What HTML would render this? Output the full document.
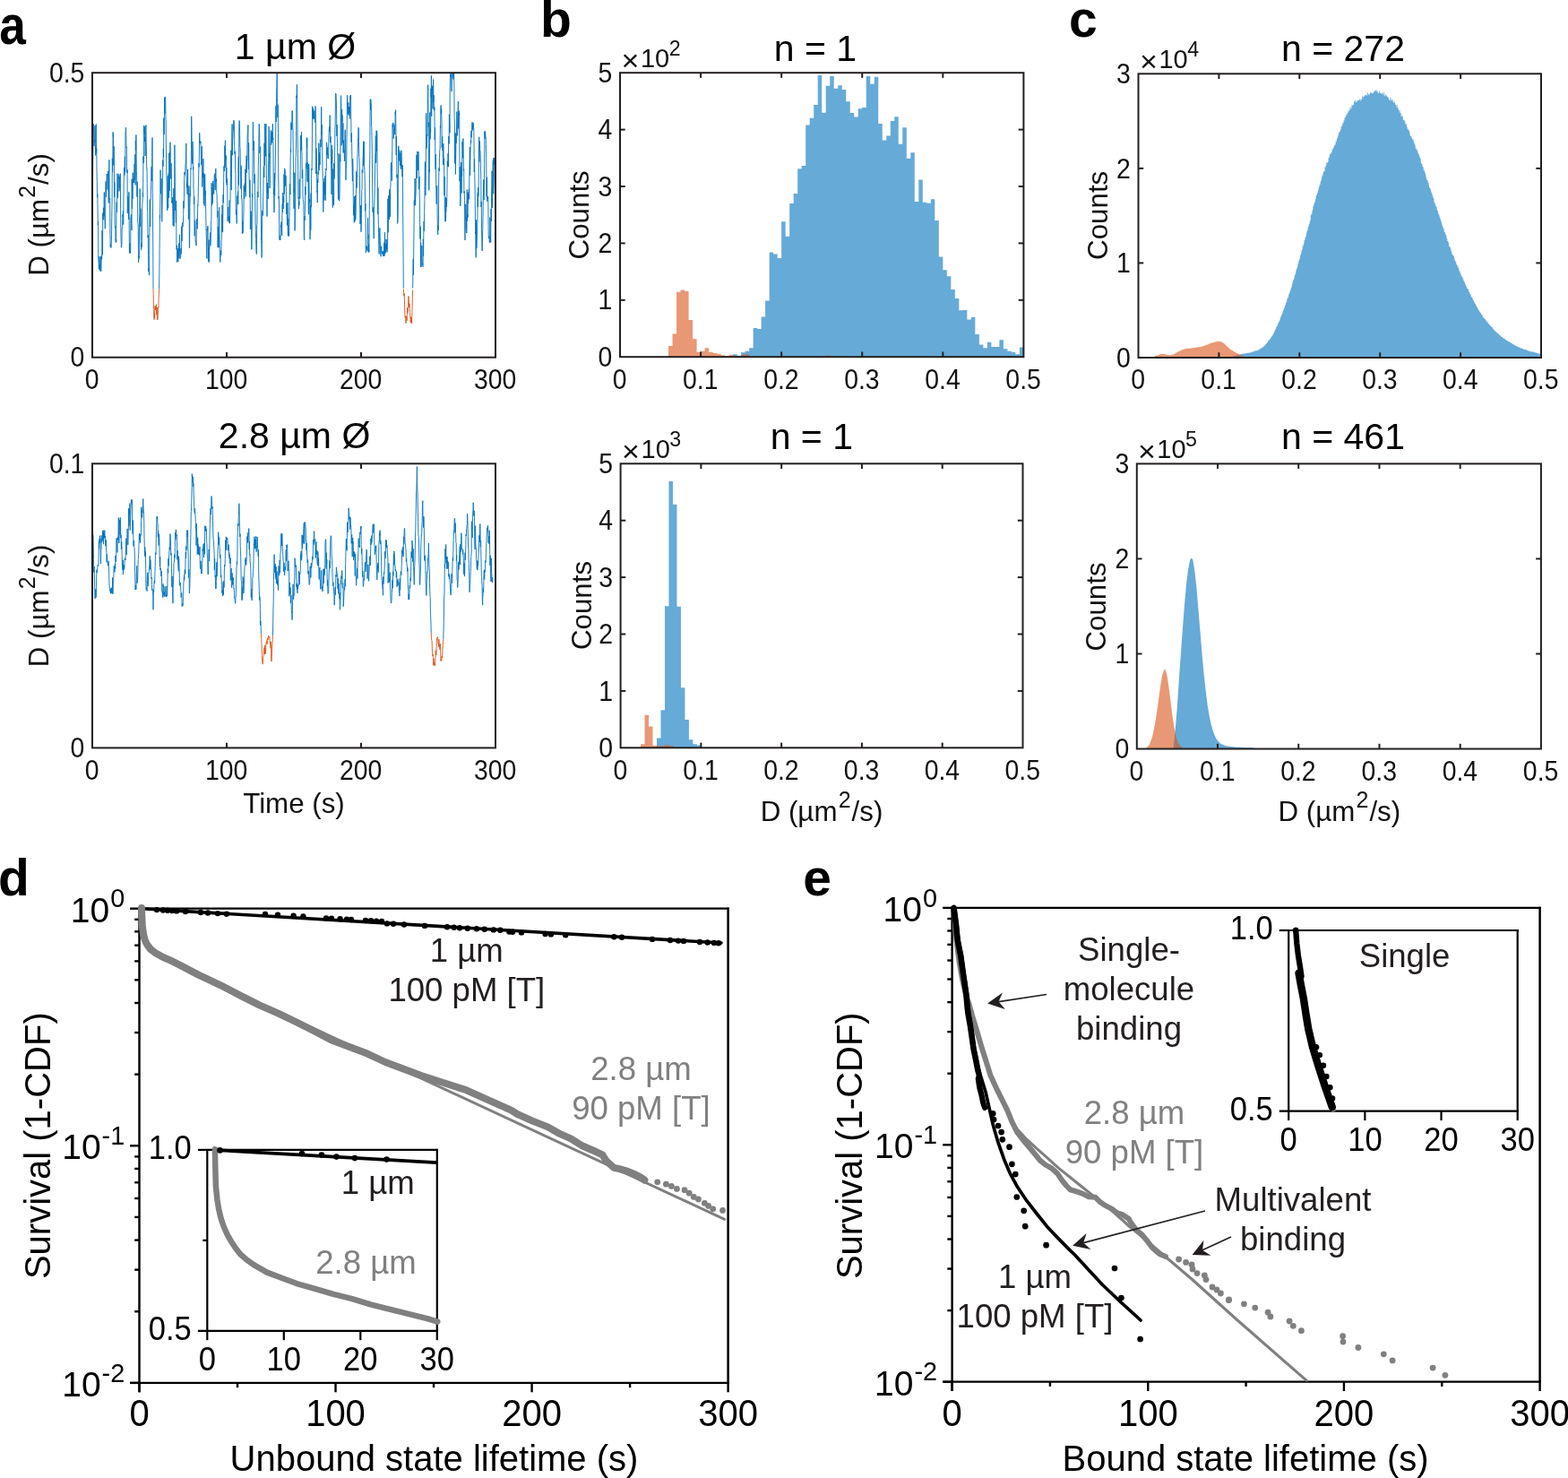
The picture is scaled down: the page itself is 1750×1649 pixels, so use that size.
<!DOCTYPE html>
<html lang="en"><head><meta charset="utf-8"><title>Figure</title>
<style>
html,body{margin:0;padding:0;background:#fff;}
body{width:1750px;height:1649px;overflow:hidden;}
svg{display:block;font-family:'Liberation Sans', sans-serif;}
</style></head><body>
<svg width="1750" height="1649" viewBox="0 0 1750 1649">
<rect x="0" y="0" width="1750" height="1649" fill="#ffffff"/>
<text transform="translate(-0.8 49.2) scale(0.933 1.067)" font-size="57" font-weight="bold">a</text>
<text x="603" y="41" font-size="57" text-anchor="start" font-weight="bold" fill="#000">b</text>
<text x="1193" y="40.5" font-size="57" text-anchor="start" font-weight="bold" fill="#000">c</text>
<text x="-2" y="999.3" font-size="57" text-anchor="start" font-weight="bold" fill="#000">d</text>
<text x="896.3" y="998.7" font-size="57" text-anchor="start" font-weight="bold" fill="#000">e</text>
<g id="panel-a">
<clipPath id="clip-a1"><rect x="103.0" y="81.2" width="450.0" height="317.5"/></clipPath>
<g clip-path="url(#clip-a1)">
<polyline points="103.0,232.9 103.2,217.1 103.5,201.3 103.7,180.3 104.0,153.9 104.2,145.1 104.4,138.0 104.7,151.9 104.9,163.0 105.2,156.8 105.5,158.6 105.7,157.9 106.0,140.2 106.2,162.1 106.5,169.3 106.8,173.5 107.0,143.9 107.3,138.5 107.5,171.0 107.8,165.7 108.0,191.0 108.3,201.5 108.6,220.4 108.8,216.4 109.1,236.1 109.3,251.1 109.6,247.3 109.8,288.5 110.1,292.3 110.4,300.4 110.6,296.8 110.9,286.1 111.1,289.2 111.4,294.3 111.6,301.8 111.9,302.1 112.2,297.0 112.4,286.3 112.7,303.0 112.9,299.5 113.2,285.3 113.5,288.6 113.7,289.2 114.0,257.2 114.2,265.8 114.5,284.3 114.7,237.6 115.0,243.3 115.3,245.2 115.5,231.8 115.8,241.1 116.0,238.7 116.3,214.5 116.5,238.9 116.8,243.5 117.1,247.8 117.3,255.2 117.6,240.1 117.8,222.6 118.1,202.5 118.4,219.7 118.6,205.3 118.9,200.6 119.2,194.2 119.4,196.0 119.7,194.0 120.0,211.6 120.2,196.6 120.5,191.6 120.8,190.9 121.1,223.8 121.3,226.5 121.6,194.5 121.9,178.3 122.1,220.0 122.4,222.4 122.7,221.7 122.9,257.1 123.2,275.6 123.5,272.2 123.8,276.5 124.0,276.2 124.3,271.2 124.5,262.7 124.8,242.2 125.1,225.0 125.3,176.8 125.6,192.1 125.8,182.2 126.1,147.3 126.3,152.3 126.6,149.7 126.9,184.3 127.1,163.3 127.4,186.9 127.6,219.9 127.9,203.2 128.1,247.8 128.4,254.1 128.7,252.5 128.9,265.7 129.2,270.0 129.4,266.7 129.7,270.7 129.9,239.0 130.2,225.6 130.5,236.7 130.7,219.3 131.0,193.6 131.2,195.8 131.5,221.1 131.8,197.7 132.0,198.7 132.3,196.7 132.5,194.6 132.8,195.3 133.0,213.4 133.3,197.0 133.6,210.1 133.8,198.7 134.1,198.7 134.3,193.7 134.6,232.6 134.8,254.2 135.1,267.5 135.4,276.2 135.6,274.0 135.9,273.0 136.1,257.0 136.4,253.9 136.6,252.8 136.9,239.5 137.2,242.0 137.4,235.5 137.7,250.6 137.9,226.2 138.2,202.0 138.5,190.0 138.7,186.9 139.0,195.5 139.2,175.2 139.5,174.6 139.7,191.8 140.0,147.2 140.3,147.2 140.5,142.2 140.8,154.9 141.0,164.7 141.3,163.7 141.5,185.4 141.8,193.1 142.1,189.4 142.3,238.1 142.6,229.7 142.8,218.8 143.1,227.5 143.4,234.4 143.6,244.9 143.9,214.3 144.1,242.9 144.4,281.1 144.6,282.4 144.9,271.3 145.2,282.6 145.4,282.5 145.7,278.7 145.9,242.3 146.2,242.2 146.4,239.2 146.7,249.4 147.0,256.9 147.2,199.7 147.5,233.0 147.7,203.5 148.0,221.9 148.2,192.6 148.5,204.1 148.8,204.0 149.0,203.0 149.3,199.2 149.5,204.0 149.8,193.0 150.1,182.7 150.3,200.6 150.6,196.7 150.8,172.2 151.1,206.4 151.3,157.0 151.6,167.8 151.9,150.4 152.1,166.8 152.4,190.2 152.7,200.4 152.9,219.5 153.2,202.9 153.5,206.6 153.7,249.0 154.0,249.4 154.3,257.9 154.5,292.7 154.8,290.7 155.1,285.4 155.3,287.5 155.6,245.1 155.9,237.3 156.1,210.5 156.4,217.4 156.7,252.9 156.9,232.7 157.2,268.7 157.5,279.1 157.8,271.6 158.0,276.2 158.3,274.0 158.6,251.5 158.8,227.2 159.1,224.9 159.4,215.4 159.6,219.5 159.9,174.4 160.2,182.1 160.5,181.2 160.7,140.1 161.0,150.2 161.2,141.2 161.5,158.1 161.7,153.6 162.0,153.4 162.2,174.0 162.5,157.1 162.7,145.1 162.9,139.4 163.2,158.7 163.5,171.2 163.7,187.8 164.0,187.5 164.2,204.4 164.5,230.8 164.7,236.6 165.0,265.2 165.3,262.3 165.5,285.6 165.8,303.0 166.0,299.0 166.3,304.0 166.6,307.1 166.8,259.2 167.1,247.4 167.3,223.0 167.6,253.0 167.9,222.0 168.1,222.4 168.4,212.9 168.7,205.0 168.9,186.9 169.2,185.9 169.5,201.9 169.7,174.3 170.0,153.5 170.3,214.8 170.5,238.0 170.8,280.3 171.0,322.6" fill="none" stroke="#0072BD" stroke-width="0.9" stroke-linejoin="round"/>
<polyline points="177.6,322.6 177.9,300.4 178.1,278.2 178.4,240.1 178.6,243.4 178.8,227.0 179.1,189.6 179.3,213.2 179.6,216.2 179.9,203.4 180.2,199.3 180.4,218.1 180.7,247.3 181.0,231.3 181.3,211.8 181.5,200.5 181.8,178.6 182.0,185.7 182.3,165.8 182.6,175.5 182.8,131.6 183.1,150.1 183.4,135.6 183.6,108.7 183.9,127.2 184.2,113.7 184.4,108.1 184.7,113.1 184.9,127.8 185.2,135.9 185.4,165.1 185.7,182.7 185.9,195.5 186.2,202.7 186.4,228.2 186.7,234.8 186.9,228.8 187.2,196.3 187.4,221.2 187.7,232.3 187.9,208.3 188.2,193.5 188.5,220.7 188.7,170.9 189.0,183.1 189.2,212.9 189.5,169.3 189.7,174.5 190.0,158.7 190.3,175.7 190.5,185.8 190.8,199.5 191.0,182.2 191.3,193.4 191.5,208.1 191.8,226.2 192.1,224.7 192.3,226.8 192.6,220.2 192.8,232.8 193.1,251.4 193.4,248.1 193.6,223.9 193.9,210.2 194.1,252.7 194.4,239.3 194.6,221.7 194.9,161.7 195.2,185.5 195.4,202.7 195.6,234.5 195.9,233.7 196.1,233.0 196.4,248.5 196.6,223.9 196.9,267.0 197.1,278.4 197.4,273.9 197.6,292.7 197.9,287.7 198.2,281.9 198.4,277.3 198.7,289.6 198.9,291.9 199.2,283.5 199.5,271.5 199.7,287.7 200.0,287.7 200.3,276.5 200.5,261.7 200.8,288.8 201.1,287.7 201.3,287.7 201.6,287.7 201.8,277.1 202.1,283.3 202.4,280.3 202.6,252.7 202.9,260.9 203.1,269.0 203.4,249.6 203.7,248.4 203.9,253.2 204.2,250.2 204.4,249.6 204.7,239.5 204.9,224.4 205.2,232.4 205.5,220.6 205.7,199.8 206.0,192.1 206.2,195.3 206.5,191.3 206.8,190.4 207.0,184.2 207.3,181.2 207.5,173.1 207.8,159.9 208.0,184.8 208.3,206.9 208.6,209.3 208.8,204.7 209.1,216.6 209.3,203.5 209.6,188.9 209.8,217.1 210.1,216.0 210.4,244.6 210.6,231.2 210.9,207.3 211.1,226.7 211.4,276.7 211.6,270.0 211.9,231.5 212.2,216.2 212.4,218.7 212.7,207.8 212.9,187.8 213.2,189.0 213.5,166.4 213.7,129.8 214.0,148.2 214.2,173.0 214.5,176.1 214.7,182.6 215.0,158.0 215.3,168.1 215.5,189.5 215.8,186.3 216.0,210.3 216.3,216.4 216.5,227.8 216.8,219.7 217.1,263.0 217.3,263.2 217.6,246.1 217.8,249.5 218.1,269.1 218.4,268.7 218.6,270.3 218.9,274.1 219.1,273.9 219.4,244.2 219.6,249.3 219.9,248.8 220.2,255.3 220.4,247.5 220.7,228.6 220.9,229.5 221.2,220.3 221.4,207.2 221.7,195.5 222.0,182.0 222.2,186.4 222.5,157.0 222.7,148.2 223.0,154.5 223.2,159.5 223.5,157.7 223.8,159.5 224.0,158.3 224.3,172.3 224.5,183.9 224.8,180.8 225.1,179.3 225.3,163.3 225.6,208.5 225.8,207.0 226.1,195.8 226.3,193.5 226.6,197.9 226.9,177.2 227.1,211.2 227.4,227.7 227.6,193.2 227.9,211.0 228.1,229.8 228.4,202.7 228.7,194.5 228.9,205.3 229.2,217.9 229.4,212.9 229.7,235.0 229.9,248.2 230.2,260.8 230.5,268.5 230.7,285.5 231.0,288.6 231.2,254.8 231.5,257.3 231.8,252.1 232.0,252.3 232.3,269.5 232.5,279.1 232.8,292.0 233.0,267.6 233.3,292.7 233.6,279.1 233.8,278.1 234.1,273.4 234.3,272.8 234.6,259.5 234.8,274.1 235.1,271.3 235.4,261.0 235.6,245.9 235.9,245.5 236.1,204.4 236.4,213.5 236.6,229.2 236.9,208.9 237.2,224.7 237.4,226.8 237.7,201.9 237.9,207.5 238.2,205.8 238.5,214.1 238.7,216.6 239.0,205.1 239.2,196.6 239.5,193.7 239.7,194.0 240.0,210.6 240.3,212.1 240.5,199.6 240.8,188.0 241.1,201.0 241.3,202.2 241.6,199.4 241.8,215.6 242.1,217.9 242.4,229.9 242.6,242.7 242.9,235.4 243.1,276.1 243.4,253.0 243.7,268.5 243.9,261.5 244.2,276.2 244.5,231.3 244.7,242.2 245.0,263.2 245.2,278.2 245.5,287.7 245.8,292.6 246.0,287.7 246.3,284.4 246.5,279.4 246.8,284.6 247.1,268.2 247.3,267.5 247.6,239.3 247.8,259.2 248.1,229.0 248.4,233.3 248.6,258.7 248.9,228.3 249.1,217.1 249.4,226.2 249.6,208.2 249.9,185.2 250.2,189.0 250.4,191.1 250.7,189.5 250.9,162.6 251.2,186.9 251.4,156.6 251.7,175.4 252.0,178.5 252.3,173.5 252.5,203.8 252.8,187.1 253.1,206.4 253.3,200.2 253.6,199.3 253.9,224.6 254.1,247.1 254.4,239.3 254.7,231.0 254.9,245.3 255.2,243.3 255.5,241.6 255.7,246.9 256.0,249.1 256.2,223.5 256.5,249.2 256.8,225.3 257.0,224.5 257.3,199.8 257.5,197.2 257.8,167.7 258.0,207.5 258.3,212.1 258.6,172.0 258.8,150.6 259.1,138.4 259.3,173.1 259.6,157.7 259.8,155.3 260.1,147.7 260.4,145.0 260.6,138.4 260.9,134.1 261.1,134.9 261.4,135.2 261.6,155.4 261.9,171.0 262.2,172.2 262.4,168.8 262.7,189.7 262.9,193.6 263.2,231.9 263.5,239.5 263.7,235.1 264.0,234.5 264.2,249.4 264.5,221.5 264.7,218.7 265.0,221.3 265.3,219.4 265.5,213.4 265.8,228.1 266.0,185.1 266.3,174.6 266.5,206.5 266.8,141.6 267.1,134.5 267.3,136.0 267.6,148.1 267.8,163.5 268.1,165.9 268.4,182.6 268.6,190.5 268.9,210.8 269.1,184.7 269.4,197.5 269.6,221.9 269.9,221.8 270.2,228.3 270.4,260.7 270.7,246.8 270.9,257.5 271.2,259.8 271.4,250.9 271.7,247.8 272.0,234.3 272.2,207.0 272.5,215.0 272.7,222.0 273.0,206.6 273.2,204.5 273.5,213.4 273.8,189.0 274.0,200.2 274.3,219.3 274.5,186.7 274.8,182.6 275.1,173.7 275.3,192.8 275.6,178.0 275.8,178.5 276.1,151.7 276.3,149.4 276.6,146.3 276.9,139.4 277.1,175.0 277.4,188.8 277.6,159.3 277.9,191.7 278.1,195.3 278.4,210.6 278.7,220.1 278.9,200.8 279.2,218.7 279.4,255.9 279.7,243.2 279.9,237.5 280.2,235.7 280.5,242.6 280.7,278.2 281.0,278.3 281.3,245.6 281.5,216.0 281.8,220.0 282.1,164.7 282.4,136.0 282.6,152.0 282.9,168.0 283.2,157.3 283.4,158.4 283.7,187.9 284.0,204.7 284.3,194.4 284.5,214.6 284.8,223.7 285.1,249.1 285.3,256.5 285.6,266.7 285.9,279.3 286.1,282.3 286.4,283.5 286.7,250.6 287.0,250.4 287.2,219.3 287.5,213.9 287.8,215.2 288.0,220.1 288.3,186.5 288.6,172.3 288.8,164.5 289.1,138.3 289.4,140.1 289.6,142.2 289.9,170.7 290.2,167.8 290.5,163.6 290.7,202.0 291.0,228.3 291.3,235.0 291.5,268.5 291.8,272.3 292.1,287.5 292.3,280.0 292.6,242.4 292.9,235.1 293.1,234.9 293.4,240.5 293.7,219.7 293.9,212.1 294.2,187.5 294.5,185.7 294.8,198.1 295.0,159.7 295.3,184.6 295.6,138.0 295.8,145.8 296.1,154.2 296.4,174.3 296.6,151.6 296.9,138.2 297.2,174.1 297.4,194.9 297.7,203.9 298.0,241.5 298.2,204.0 298.5,211.6 298.8,216.1 299.0,207.4 299.3,222.1 299.5,181.9 299.8,179.0 300.1,141.2 300.3,175.1 300.6,171.3 300.8,187.6 301.1,210.0 301.3,183.6 301.6,168.9 301.9,158.2 302.1,147.7 302.4,145.3 302.6,161.7 302.9,156.6 303.1,153.5 303.4,147.0 303.7,159.3 303.9,155.5 304.2,142.9 304.4,138.0 304.7,156.0 304.9,154.3 305.2,203.5 305.4,216.6 305.6,210.6 305.9,237.0 306.1,234.7 306.4,193.0 306.6,218.2 306.9,200.1 307.1,194.4 307.4,174.2 307.7,154.1 307.9,118.3 308.2,135.8 308.4,120.0 308.7,102.0 308.9,97.4 309.2,81.3 309.4,109.4 309.7,113.6 310.0,131.1 310.2,116.7 310.5,148.4 310.7,187.1 311.0,221.5 311.3,219.1 311.5,232.9 311.8,265.7 312.1,267.9 312.3,263.9 312.6,262.9 312.8,268.0 313.1,262.9 313.4,251.2 313.6,253.4 313.9,248.1 314.2,247.3 314.4,260.5 314.7,262.9 314.9,242.1 315.2,227.7 315.5,236.9 315.7,215.0 316.0,228.8 316.2,233.0 316.5,219.9 316.8,225.6 317.0,194.6 317.3,216.6 317.6,187.9 317.8,188.8 318.1,189.4 318.3,190.2 318.6,207.5 318.9,195.8 319.1,197.0 319.4,213.7 319.7,238.8 319.9,227.7 320.2,232.8 320.5,251.4 320.7,247.1 321.0,225.9 321.3,263.0 321.5,262.9 321.8,243.9 322.1,263.8 322.3,259.4 322.6,262.4 322.8,253.4 323.1,230.4 323.4,205.0 323.6,207.8 323.9,217.1 324.1,182.8 324.4,166.1 324.6,169.7 324.9,136.6 325.2,144.5 325.4,139.0 325.7,144.7 325.9,123.7 326.2,124.6 326.4,123.7 326.7,141.3 327.0,145.2 327.2,163.7 327.5,188.2 327.7,210.3 328.0,232.8 328.2,210.3 328.5,214.9 328.8,192.6 329.0,257.4 329.3,253.5 329.5,231.1 329.8,220.7 330.1,175.9 330.3,174.6 330.6,153.9 330.8,106.7 331.1,109.0 331.3,94.3 331.6,95.8 331.9,133.2 332.1,150.9 332.4,172.4 332.6,190.6 332.9,221.2 333.1,220.2 333.4,232.9 333.7,224.8 333.9,229.2 334.2,203.0 334.4,199.8 334.7,221.6 334.9,205.3 335.2,185.9 335.5,159.7 335.7,151.2 336.0,158.4 336.2,167.4 336.5,147.3 336.8,169.1 337.0,170.9 337.3,199.0 337.5,189.2 337.8,189.9 338.0,218.3 338.3,222.4 338.6,225.2 338.8,228.3 339.1,240.6 339.3,264.7 339.6,267.9 339.9,241.0 340.1,246.0 340.4,236.6 340.7,208.2 340.9,217.4 341.2,197.4 341.5,182.2 341.7,186.3 342.0,188.2 342.3,153.5 342.5,165.4 342.8,154.5 343.1,202.5 343.3,181.1 343.6,202.9 343.9,186.9 344.1,207.1 344.4,239.2 344.7,183.0 344.9,198.8 345.2,222.4 345.5,225.6 345.7,222.1 346.0,267.1 346.3,255.7 346.5,229.8 346.8,256.6 347.1,215.6 347.3,231.2 347.6,199.6 347.8,188.3 348.1,189.9 348.4,162.2 348.6,118.7 348.9,119.5 349.1,126.0 349.4,132.7 349.6,120.9 349.9,129.4 350.2,130.1 350.4,132.5 350.7,123.5 350.9,123.5 351.2,127.1 351.4,132.6 351.7,136.6 352.0,118.5 352.2,122.2 352.5,146.7 352.7,193.9 353.0,165.5 353.2,172.7 353.5,188.4 353.8,214.3 354.0,213.3 354.3,226.0 354.5,199.8 354.8,204.0 355.1,191.2 355.3,194.6 355.6,180.6 355.8,159.7 356.1,190.3 356.3,186.8 356.6,170.2 356.9,173.4 357.1,183.9 357.4,155.7 357.6,156.4 357.9,164.0 358.1,164.0 358.4,148.7 358.7,119.3 358.9,150.2 359.2,139.1 359.5,158.2 359.7,168.4 360.0,190.7 360.3,198.7 360.5,203.1 360.8,236.6 361.1,217.9 361.4,214.7 361.6,203.0 361.9,223.3 362.1,198.9 362.4,217.4 362.7,196.4 362.9,207.1 363.2,223.7 363.5,209.5 363.7,188.1 364.0,189.9 364.3,189.6 364.5,158.8 364.8,162.5 365.0,173.0 365.3,164.7 365.6,167.6 365.8,176.0 366.1,177.0 366.4,177.0 366.6,169.8 366.9,151.8 367.2,147.0 367.4,143.2 367.7,141.4 367.9,146.9 368.2,128.5 368.5,145.7 368.7,159.1 369.0,152.3 369.2,167.0 369.5,183.0 369.7,181.2 370.0,216.9 370.3,162.0 370.5,181.6 370.8,166.9 371.0,206.6 371.3,231.6 371.5,188.5 371.8,209.7 372.1,225.8 372.3,221.9 372.6,228.8 372.8,182.1 373.1,199.5 373.4,188.2 373.6,168.9 373.9,142.9 374.1,142.0 374.4,114.7 374.6,104.0 374.9,104.4 375.2,109.0 375.4,113.1 375.7,132.1 375.9,151.8 376.2,139.1 376.4,152.1 376.7,171.2 377.0,175.7 377.2,198.5 377.5,222.5 377.7,192.3 378.0,171.3 378.2,210.4 378.5,224.2 378.8,222.6 379.0,219.9 379.3,194.5 379.5,172.4 379.8,180.3 380.1,147.7 380.3,114.4 380.6,106.6 380.8,119.5 381.1,162.3 381.3,130.9 381.6,121.9 381.9,135.8 382.1,128.6 382.4,159.6 382.6,152.3 382.9,137.3 383.1,170.6 383.4,156.5 383.7,166.3 383.9,168.9 384.2,167.9 384.4,179.8 384.7,171.3 384.9,153.7 385.2,144.8 385.5,158.4 385.7,173.4 386.0,200.9 386.2,188.6 386.5,188.2 386.8,174.8 387.0,149.9 387.3,135.8 387.5,106.3 387.8,114.3 388.0,119.5 388.3,127.1 388.6,118.6 388.9,114.2 389.1,128.6 389.4,119.2 389.7,126.1 389.9,125.5 390.2,119.1 390.5,132.5 390.7,108.4 391.0,106.6 391.3,111.1 391.5,106.1 391.8,133.7 392.1,158.9 392.3,148.3 392.6,159.4 392.9,178.9 393.1,186.9 393.4,202.2 393.7,177.2 393.9,184.4 394.2,209.9 394.5,240.2 394.7,237.4 395.0,228.6 395.3,248.4 395.5,229.5 395.8,219.1 396.0,247.1 396.3,221.1 396.6,217.9 396.8,245.1 397.1,236.1 397.4,216.4 397.6,191.4 397.9,194.2 398.2,209.5 398.4,196.0 398.7,197.0 398.9,176.1 399.2,171.2 399.5,154.9 399.7,154.8 400.0,142.2 400.3,142.5 400.5,157.6 400.8,175.5 401.0,176.5 401.3,187.7 401.6,214.9 401.8,249.5 402.1,248.0 402.4,249.7 402.6,229.1 402.9,258.7 403.2,257.5 403.4,241.1 403.7,212.5 404.0,211.8 404.2,189.5 404.5,192.6 404.8,193.0 405.0,180.1 405.3,172.7 405.6,157.6 405.8,184.9 406.1,173.4 406.3,158.2 406.6,183.7 406.9,190.2 407.1,195.2 407.4,213.0 407.6,235.3 407.9,227.3 408.1,246.4 408.4,282.0 408.7,274.1 408.9,278.3 409.2,278.5 409.4,275.2 409.7,275.6 409.9,279.1 410.2,280.1 410.5,243.1 410.7,266.3 411.0,261.8 411.2,281.5 411.5,272.8 411.8,281.3 412.0,276.3 412.3,234.5 412.5,199.2 412.8,168.7 413.0,129.4 413.3,110.6 413.6,122.5 413.8,111.2 414.1,116.2 414.3,116.2 414.6,141.2 414.8,142.0 415.1,155.5 415.4,177.7 415.6,207.9 415.9,234.3 416.1,236.9 416.4,231.5 416.6,237.3 416.9,241.1 417.2,266.1 417.4,234.0 417.7,229.9 418.0,221.5 418.2,210.7 418.5,194.2 418.8,171.6 419.0,171.2 419.3,151.5 419.6,181.7 419.8,177.6 420.1,145.6 420.4,169.0 420.6,146.3 420.9,149.7 421.1,193.6 421.4,206.5 421.6,238.8 421.9,209.6 422.1,234.7 422.4,250.8 422.6,262.0 422.8,274.4 423.1,283.4 423.4,267.2 423.6,259.3 423.9,254.3 424.2,265.2 424.4,268.4 424.7,284.2 425.0,285.4 425.2,286.2 425.5,275.0 425.8,274.7 426.0,281.0 426.3,280.5 426.6,283.2 426.8,282.7 427.1,280.5 427.4,284.3 427.6,285.5 427.9,280.5 428.2,286.0 428.4,280.5 428.7,270.7 428.9,282.5 429.2,285.4 429.5,259.2 429.7,282.5 430.0,266.8 430.3,282.3 430.5,272.9 430.8,273.0 431.1,279.3 431.3,271.8 431.6,277.6 431.8,267.0 432.1,281.3 432.4,273.1 432.6,271.5 432.9,221.8 433.1,259.4 433.4,251.8 433.7,218.3 433.9,231.0 434.2,237.3 434.4,244.8 434.7,211.4 434.9,235.4 435.2,214.5 435.5,241.8 435.7,209.5 436.0,206.8 436.2,186.5 436.5,181.3 436.8,188.9 437.0,192.7 437.3,201.7 437.5,192.6 437.8,166.1 438.0,138.6 438.3,142.2 438.6,141.2 438.8,136.9 439.1,154.4 439.3,154.8 439.6,144.1 439.8,145.0 440.1,138.7 440.4,139.9 440.6,146.5 440.9,150.1 441.1,124.7 441.4,127.6 441.6,122.6 441.9,144.7 442.2,173.1 442.4,152.1 442.7,174.7 442.9,198.3 443.2,194.8 443.5,217.8 443.7,249.4 444.0,245.8 444.2,236.3 444.5,182.1 444.7,162.8 445.0,164.2 445.3,179.5 445.5,174.5 445.8,167.8 446.1,175.0 446.3,184.4 446.6,184.9 446.9,170.3 447.1,177.9 447.4,188.6 447.7,173.0 447.9,167.8 448.2,174.1 448.5,186.0 448.7,184.0 449.0,197.2 449.3,184.4 449.5,216.1 449.8,253.0 450.1,287.3 450.3,321.5" fill="none" stroke="#0072BD" stroke-width="0.9" stroke-linejoin="round"/>
<polyline points="460.6,321.5 460.9,305.2 461.2,288.9 461.4,306.9 461.7,280.1 462.0,257.1 462.3,223.6 462.5,229.3 462.8,218.9 463.1,199.0 463.3,213.1 463.6,229.2 463.8,220.6 464.1,214.0 464.4,200.4 464.6,199.2 464.9,172.9 465.2,198.8 465.4,184.0 465.7,168.9 466.0,170.6 466.2,173.0 466.5,181.4 466.7,190.1 467.0,169.0 467.3,190.8 467.5,211.2 467.8,204.7 468.0,197.2 468.2,214.1 468.5,230.0 468.7,258.6 469.0,266.5 469.2,252.6 469.5,297.8 469.7,271.1 470.0,297.9 470.3,278.2 470.5,277.5 470.8,274.2 471.0,277.0 471.3,295.1 471.5,293.7 471.8,295.8 472.1,297.7 472.3,266.8 472.6,285.5 472.8,262.5 473.1,247.0 473.4,257.7 473.6,236.5 473.9,223.4 474.1,207.5 474.4,180.6 474.6,204.8 474.9,218.1 475.2,199.2 475.4,169.1 475.7,126.4 475.9,148.5 476.2,165.6 476.4,151.7 476.7,150.0 477.0,151.5 477.2,140.6 477.5,107.0 477.7,94.7 478.0,141.6 478.2,136.6 478.5,170.9 478.8,212.3 479.0,188.9 479.3,191.7 479.6,159.6 479.8,125.3 480.1,155.3 480.4,143.6 480.6,147.7 480.9,98.9 481.2,109.2 481.4,84.4 481.7,129.6 482.0,101.5 482.3,100.7 482.5,95.8 482.8,113.1 483.1,121.5 483.3,111.9 483.6,88.6 483.9,113.7 484.1,106.1 484.4,121.7 484.7,123.4 484.9,119.5 485.2,156.0 485.5,142.3 485.7,156.1 486.0,188.7 486.3,172.2 486.5,187.6 486.8,211.0 487.1,226.8 487.3,227.8 487.6,207.2 487.9,207.5 488.1,236.8 488.4,255.8 488.7,261.8 488.9,251.6 489.2,257.0 489.5,246.1 489.7,198.4 490.0,187.4 490.3,191.0 490.5,175.2 490.8,167.5 491.1,167.0 491.4,140.4 491.6,143.0 491.9,120.2 492.2,117.4 492.4,127.2 492.7,121.6 493.0,136.2 493.2,164.6 493.5,154.7 493.8,152.3 494.0,168.3 494.3,161.1 494.6,183.9 494.8,160.1 495.1,184.0 495.3,179.1 495.6,176.7 495.9,218.1 496.1,196.9 496.4,232.3 496.7,231.9 496.9,247.3 497.2,219.9 497.5,246.7 497.7,236.0 498.0,236.1 498.3,221.3 498.5,231.0 498.8,220.7 499.1,196.5 499.3,179.8 499.6,185.1 499.9,180.2 500.1,171.2 500.4,186.2 500.6,155.6 500.9,151.9 501.2,160.4 501.4,127.7 501.7,135.3 502.0,148.3 502.2,101.3 502.5,84.9 502.7,82.8 503.0,86.3 503.2,81.5 503.5,81.3 503.8,81.5 504.0,102.1 504.3,86.3 504.5,86.2 504.8,86.3 505.1,81.6 505.3,86.3 505.6,84.4 505.8,80.9 506.1,88.8 506.3,81.3 506.6,81.3 506.9,98.2 507.1,130.6 507.4,139.1 507.6,182.4 507.9,148.1 508.2,157.3 508.4,194.4 508.7,177.6 509.0,149.3 509.2,160.0 509.5,143.0 509.8,124.6 510.0,129.7 510.3,151.3 510.6,151.3 510.8,141.9 511.1,123.9 511.4,113.1 511.6,143.4 511.9,135.3 512.2,123.6 512.4,128.6 512.7,126.0 513.0,202.3 513.3,186.1 513.5,208.0 513.8,229.8 514.1,221.8 514.3,212.5 514.6,188.7 514.8,181.1 515.1,215.5 515.4,186.8 515.6,196.7 515.9,158.0 516.1,161.7 516.4,166.9 516.6,176.3 516.9,154.5 517.2,173.6 517.4,190.4 517.7,188.6 517.9,215.4 518.2,213.4 518.5,223.4 518.7,247.8 519.0,267.9 519.2,247.7 519.5,239.8 519.7,227.8 520.0,236.8 520.3,255.4 520.5,242.0 520.8,260.0 521.0,227.6 521.3,211.6 521.5,246.6 521.8,239.2 522.1,242.4 522.3,214.6 522.6,227.0 522.8,220.8 523.1,222.1 523.4,210.8 523.6,222.2 523.9,196.0 524.1,179.8 524.4,164.0 524.6,195.7 524.9,175.9 525.2,162.1 525.4,156.4 525.7,159.5 525.9,145.8 526.2,153.4 526.4,148.6 526.7,145.7 527.0,136.2 527.2,145.5 527.5,138.9 527.7,142.8 528.0,143.9 528.2,137.0 528.5,142.0 528.8,143.2 529.0,155.9 529.3,192.0 529.5,177.4 529.8,193.4 530.1,213.4 530.3,227.8 530.6,260.9 530.8,259.1 531.1,287.4 531.3,286.5 531.6,245.2 531.9,277.1 532.1,271.2 532.4,264.7 532.6,251.7 532.9,247.4 533.1,215.1 533.4,231.0 533.7,209.2 533.9,219.0 534.2,203.8 534.4,162.3 534.7,152.8 534.9,180.5 535.2,166.0 535.5,157.6 535.7,167.6 536.0,168.5 536.2,172.4 536.5,188.9 536.8,200.7 537.0,230.9 537.3,224.8 537.5,255.6 537.8,270.6 538.0,280.0 538.3,278.9 538.6,257.6 538.8,254.8 539.1,239.3 539.3,219.1 539.6,216.0 539.8,200.4 540.1,223.1 540.4,208.5 540.6,182.7 540.9,146.7 541.1,154.7 541.4,146.4 541.6,147.3 541.9,152.3 542.2,152.3 542.4,161.7 542.7,171.6 543.0,219.3 543.2,201.3 543.5,197.7 543.8,224.7 544.0,219.0 544.3,222.0 544.5,219.4 544.8,219.5 545.1,255.6 545.3,265.2 545.6,266.0 545.9,263.7 546.1,266.9 546.4,271.0 546.7,269.9 546.9,242.6 547.2,256.7 547.5,266.0 547.7,270.4 548.0,233.0 548.3,246.7 548.5,220.9 548.8,207.5 549.1,190.7 549.3,218.4 549.6,231.9 549.9,199.3 550.1,181.8 550.4,178.4 550.7,216.2 550.9,176.2 551.2,183.9 551.5,181.2 551.8,175.9 552.0,201.6 552.3,208.0 552.6,214.3" fill="none" stroke="#0072BD" stroke-width="0.9" stroke-linejoin="round"/>
<polyline points="171.0,322.6 171.3,333.9 171.6,345.3 171.9,356.6 172.1,355.6 172.4,349.3 172.6,354.6 172.9,344.3 173.1,341.5 173.4,345.6 173.6,341.8 173.9,345.7 174.1,342.2 174.4,339.5 174.6,346.7 174.9,351.3 175.2,343.0 175.4,356.3 175.7,356.8 175.9,356.7 176.2,356.6 176.4,346.0 176.7,342.1 176.9,342.8 177.1,333.9 177.4,328.2 177.6,322.6" fill="none" stroke="#D95319" stroke-width="0.9" stroke-linejoin="round"/>
<polyline points="450.3,322.6 450.6,326.4 450.8,330.2 451.1,327.3 451.4,333.1 451.6,342.0 451.9,351.9 452.2,354.2 452.5,353.6 452.7,352.4 453.0,360.7 453.3,353.8 453.5,355.0 453.8,353.1 454.1,357.7 454.3,352.3 454.6,343.4 454.9,349.2 455.1,347.3 455.4,341.7 455.7,337.0 455.9,330.4 456.2,333.2 456.5,343.0 456.7,340.5 457.0,338.7 457.2,345.1 457.5,348.6 457.8,352.3 458.0,354.8 458.3,359.7 458.5,353.4 458.8,359.6 459.1,354.9 459.3,361.0 459.6,360.7 459.8,352.9 460.1,342.2 460.4,332.9 460.6,323.6" fill="none" stroke="#D95319" stroke-width="0.9" stroke-linejoin="round"/>
</g>
<line x1="253.00" y1="398.70" x2="253.00" y2="393.00" stroke="#231F20" stroke-width="2.0"/>
<line x1="253.00" y1="81.20" x2="253.00" y2="86.90" stroke="#231F20" stroke-width="2.0"/>
<line x1="403.00" y1="398.70" x2="403.00" y2="393.00" stroke="#231F20" stroke-width="2.0"/>
<line x1="403.00" y1="81.20" x2="403.00" y2="86.90" stroke="#231F20" stroke-width="2.0"/>
<rect x="103.00" y="81.20" width="450.00" height="317.50" fill="none" stroke="#231F20" stroke-width="2.0"/>
<text transform="translate(102.7 434.0) scale(0.9328 1)" font-size="30.44" text-anchor="middle" fill="#111111">0</text>
<text transform="translate(252.7 434.0) scale(0.9328 1)" font-size="30.44" text-anchor="middle" fill="#111111">100</text>
<text transform="translate(402.7 434.0) scale(0.9328 1)" font-size="30.44" text-anchor="middle" fill="#111111">200</text>
<text transform="translate(552.7 434.0) scale(0.9328 1)" font-size="30.44" text-anchor="middle" fill="#111111">300</text>
<text transform="translate(94.4 409.3) scale(0.9328 1)" font-size="30.44" text-anchor="end" fill="#111111">0</text>
<text transform="translate(94.4 91.8) scale(0.9328 1)" font-size="30.44" text-anchor="end" fill="#111111">0.5</text>
<text x="329.5" y="66.1" font-size="41" text-anchor="middle" font-weight="normal" fill="#000">1 µm Ø</text>
<text x="54" y="239.5" font-size="31.3" text-anchor="middle" fill="#111111" transform="rotate(-90 54 239.5)">D (µm<tspan font-size="25.0" dx="1.2" dy="-15.2">2</tspan><tspan dx="1" dy="15.2">/s)</tspan></text>
<clipPath id="clip-a2"><rect x="103.0" y="517.3" width="450.0" height="317.1"/></clipPath>
<g clip-path="url(#clip-a2)">
<polyline points="103.0,577.2 103.2,584.7 103.5,592.3 103.8,598.6 104.0,597.7 104.3,611.1 104.5,624.5 104.8,638.5 105.1,632.1 105.3,634.2 105.6,653.9 105.8,664.0 106.1,667.9 106.3,664.8 106.6,664.5 106.9,657.3 107.1,666.7 107.4,655.7 107.7,644.2 108.0,635.6 108.2,639.1 108.5,638.5 108.8,632.8 109.0,630.6 109.3,630.1 109.6,630.7 109.8,631.6 110.1,623.6 110.4,604.6 110.6,612.2 110.9,601.8 111.1,606.0 111.4,597.7 111.6,604.6 111.9,601.0 112.2,606.1 112.4,629.0 112.7,613.0 112.9,613.1 113.2,597.4 113.5,598.6 113.7,605.1 114.0,601.5 114.2,602.9 114.5,601.0 114.7,592.0 115.0,599.3 115.3,591.7 115.5,607.2 115.8,595.5 116.0,599.1 116.3,595.1 116.5,599.7 116.8,591.6 117.1,600.5 117.3,598.0 117.6,608.4 117.8,609.2 118.1,607.8 118.4,602.4 118.6,613.0 118.9,616.3 119.1,627.3 119.4,618.6 119.6,623.7 119.9,626.8 120.2,627.9 120.4,629.4 120.7,631.4 120.9,628.3 121.2,625.9 121.4,631.0 121.7,641.3 122.0,653.0 122.2,655.0 122.5,657.8 122.7,658.5 123.0,659.8 123.2,658.3 123.5,662.2 123.8,656.7 124.0,661.7 124.3,655.7 124.5,658.4 124.8,661.4 125.1,662.2 125.3,660.4 125.6,644.3 125.8,662.3 126.1,662.6 126.3,650.2 126.6,648.5 126.9,642.1 127.1,631.4 127.4,631.7 127.6,633.9 127.9,638.4 128.1,635.8 128.4,629.0 128.7,634.3 128.9,619.9 129.2,624.4 129.4,626.8 129.7,616.5 129.9,601.0 130.2,600.4 130.5,606.8 130.7,609.7 131.0,616.5 131.2,599.7 131.5,599.4 131.8,602.5 132.0,596.5 132.3,577.6 132.5,591.8 132.8,606.0 133.0,600.4 133.3,583.6 133.6,579.9 133.8,581.7 134.1,596.8 134.3,577.2 134.6,586.9 134.8,600.3 135.1,596.9 135.4,612.8 135.6,604.0 135.9,605.9 136.1,618.4 136.4,631.1 136.6,633.6 136.9,635.5 137.2,624.8 137.4,641.1 137.7,631.4 137.9,630.1 138.2,636.0 138.5,630.1 138.7,634.4 139.0,629.5 139.2,623.3 139.5,622.8 139.7,623.3 140.0,625.0 140.3,614.7 140.5,611.3 140.8,600.7 141.0,616.3 141.3,619.1 141.5,607.2 141.8,599.4 142.1,589.9 142.3,594.9 142.6,595.4 142.8,607.9 143.1,597.2 143.4,584.8 143.6,567.3 143.9,586.6 144.1,583.3 144.4,568.1 144.6,573.8 144.9,561.7 145.2,591.6 145.4,584.1 145.7,576.1 145.9,566.5 146.2,561.8 146.4,558.1 146.7,557.6 147.0,562.2 147.2,557.4 147.5,560.9 147.7,582.0 148.0,595.6 148.2,583.9 148.5,580.5 148.8,599.5 149.0,609.2 149.3,603.0 149.5,606.1 149.8,610.5 150.1,611.8 150.3,619.0 150.6,638.3 150.8,644.4 151.1,658.1 151.3,652.9 151.6,653.5 151.9,657.6 152.1,651.0 152.4,640.5 152.6,631.4 152.9,643.4 153.2,650.6 153.4,646.7 153.7,646.6 153.9,636.8 154.2,624.4 154.5,623.5 154.7,617.8 155.0,608.4 155.3,598.9 155.5,594.8 155.8,601.6 156.0,602.8 156.3,596.7 156.6,605.7 156.8,597.9 157.1,595.8 157.3,597.3 157.6,581.4 157.9,565.6 158.1,576.9 158.4,568.6 158.6,577.5 158.9,571.6 159.2,572.1 159.4,568.3 159.7,556.5 160.0,565.3 160.2,567.7 160.5,573.0 160.8,582.2 161.0,598.9 161.3,610.6 161.6,620.6 161.8,610.5 162.1,619.5 162.4,615.2 162.7,634.6 162.9,651.4 163.2,657.6 163.5,655.8 163.7,655.5 164.0,659.7 164.2,647.2 164.5,641.5 164.8,638.8 165.0,654.3 165.3,653.9 165.6,644.1 165.8,641.9 166.1,639.1 166.4,637.6 166.6,633.0 166.9,629.3 167.1,620.4 167.4,620.4 167.7,635.2 167.9,624.6 168.2,632.1 168.5,633.4 168.7,638.8 169.0,645.7 169.2,644.2 169.5,652.5 169.7,658.8 170.0,657.1 170.3,659.2 170.5,661.5 170.8,664.9 171.0,680.3 171.3,658.5 171.6,660.7 171.8,655.0 172.1,649.0 172.4,648.0 172.6,650.8 172.9,640.5 173.2,631.4 173.4,620.9 173.7,616.6 174.0,618.4 174.2,605.9 174.5,592.3 174.8,582.8 175.0,576.5 175.3,579.2 175.6,576.1 175.8,583.8 176.1,584.0 176.3,598.7 176.6,591.8 176.9,601.9 177.1,608.5 177.4,597.1 177.6,595.7 177.9,602.4 178.1,620.3 178.4,632.0 178.7,621.1 178.9,636.0 179.2,633.8 179.4,635.7 179.7,638.0 179.9,643.1 180.2,637.2 180.5,643.5 180.7,659.6 181.0,658.9 181.2,662.2 181.5,660.8 181.8,666.7 182.0,651.3 182.3,655.2 182.5,653.0 182.8,663.2 183.0,664.8 183.3,660.4 183.6,665.7 183.8,665.5 184.1,654.3 184.3,657.0 184.6,660.2 184.8,663.3 185.1,665.4 185.4,663.0 185.6,666.1 185.9,665.8 186.1,653.8 186.4,665.0 186.6,658.0 186.9,653.2 187.2,634.5 187.4,635.1 187.7,639.3 187.9,623.2 188.2,631.4 188.5,621.0 188.7,620.1 189.0,613.2 189.2,610.4 189.5,613.4 189.7,600.4 190.0,595.7 190.3,601.1 190.5,602.7 190.8,619.3 191.1,617.2 191.3,625.9 191.6,642.4 191.9,654.9 192.1,642.9 192.4,659.2 192.7,665.8 193.0,673.2 193.2,657.4 193.5,645.7 193.8,640.1 194.0,628.5 194.3,627.0 194.6,623.3 194.8,618.7 195.1,622.7 195.4,610.5 195.6,594.0 195.9,602.2 196.2,592.6 196.4,590.8 196.7,595.8 197.0,598.2 197.2,596.4 197.5,602.9 197.7,624.2 198.0,614.0 198.2,615.7 198.5,627.1 198.8,630.3 199.0,633.5 199.3,637.3 199.5,620.7 199.8,624.6 200.1,634.8 200.3,643.0 200.6,653.3 200.8,653.1 201.1,650.0 201.3,652.8 201.6,654.0 201.9,659.5 202.1,666.4 202.4,663.6 202.6,661.3 202.9,662.1 203.1,676.6 203.4,676.1 203.7,673.4 203.9,676.1 204.2,674.8 204.4,665.3 204.7,664.3 204.9,649.7 205.2,648.2 205.5,641.7 205.7,647.3 206.0,637.9 206.2,635.6 206.5,636.0 206.8,640.6 207.0,624.9 207.3,616.0 207.5,623.0 207.8,609.6 208.0,613.6 208.3,605.5 208.6,603.7 208.8,591.7 209.1,598.9 209.3,591.7 209.6,591.6 209.8,611.9 210.1,617.5 210.4,644.5 210.6,637.7 210.9,635.4 211.1,643.3 211.4,662.0 211.6,658.6 211.9,650.1 212.2,637.8 212.5,615.1 212.7,606.0 213.0,589.9 213.3,570.6 213.5,570.3 213.8,560.3 214.1,544.2 214.3,528.7 214.6,533.7 214.9,534.2 215.1,538.7 215.4,531.7 215.7,543.1 215.9,539.3 216.2,551.0 216.5,558.7 216.7,565.4 217.0,569.2 217.3,572.7 217.5,567.3 217.8,573.1 218.1,576.8 218.3,582.5 218.6,590.5 218.9,593.7 219.1,608.6 219.4,584.1 219.6,597.6 219.9,599.3 220.2,618.5 220.4,617.1 220.7,599.8 220.9,609.3 221.2,607.5 221.4,618.7 221.7,609.5 222.0,614.3 222.2,617.0 222.5,619.4 222.7,618.1 223.0,610.1 223.2,624.7 223.5,634.8 223.8,632.1 224.0,625.8 224.3,633.4 224.5,639.8 224.8,638.2 225.1,640.1 225.3,639.3 225.6,629.5 225.9,625.3 226.1,612.4 226.4,614.4 226.7,612.7 226.9,608.6 227.2,607.0 227.5,621.9 227.7,611.1 228.0,605.9 228.3,618.3 228.5,604.8 228.8,586.6 229.1,592.8 229.3,588.1 229.6,587.5 229.9,587.3 230.1,592.2 230.4,590.2 230.7,604.9 230.9,605.8 231.2,616.2 231.5,621.2 231.7,624.7 232.0,640.4 232.3,641.1 232.5,638.1 232.8,623.4 233.1,613.0 233.3,614.7 233.6,626.0 233.9,606.0 234.1,592.6 234.4,584.5 234.7,574.8 234.9,568.2 235.2,567.2 235.4,574.2 235.7,562.6 236.0,553.5 236.2,556.1 236.5,561.0 236.8,567.8 237.0,565.1 237.3,568.5 237.5,580.3 237.8,595.2 238.0,601.1 238.3,603.5 238.6,604.0 238.8,612.1 239.1,615.9 239.3,635.9 239.6,623.1 239.8,627.3 240.1,643.6 240.4,641.9 240.6,656.5 240.9,654.7 241.1,656.5 241.4,648.4 241.6,633.7 241.9,627.3 242.1,643.3 242.4,633.8 242.6,626.1 242.9,621.7 243.1,613.4 243.4,609.6 243.6,593.7 243.9,596.4 244.1,607.7 244.4,604.8 244.7,599.4 244.9,607.7 245.2,610.8 245.5,622.5 245.7,619.7 246.0,618.8 246.2,626.0 246.5,644.2 246.8,641.8 247.0,644.9 247.3,647.4 247.6,652.7 247.8,661.5 248.1,658.2 248.4,661.7 248.6,665.1 248.9,657.0 249.2,649.6 249.4,663.7 249.7,648.3 250.0,655.4 250.2,648.8 250.5,630.1 250.8,631.9 251.0,631.9 251.3,623.6 251.6,602.9 251.8,607.2 252.1,607.5 252.4,598.8 252.6,614.0 252.9,600.9 253.1,600.6 253.4,601.8 253.7,600.1 253.9,600.8 254.2,608.3 254.4,613.7 254.7,611.1 255.0,614.4 255.2,607.6 255.5,619.9 255.8,616.5 256.0,623.3 256.3,619.1 256.5,621.6 256.8,628.8 257.1,622.6 257.3,647.4 257.6,639.8 257.8,638.1 258.1,634.1 258.4,650.3 258.6,655.7 258.9,651.2 259.1,639.2 259.4,642.3 259.7,652.4 259.9,649.3 260.2,644.8 260.4,644.4 260.7,648.4 261.0,656.5 261.2,656.0 261.5,661.7 261.7,668.0 262.0,668.0 262.3,668.6 262.5,673.3 262.8,673.0 263.0,665.1 263.3,665.3 263.6,650.9 263.8,641.1 264.1,632.5 264.4,626.6 264.6,629.4 264.9,622.0 265.1,599.8 265.4,593.5 265.7,583.9 265.9,587.1 266.2,579.2 266.4,576.3 266.7,561.7 267.0,562.7 267.2,577.1 267.5,587.8 267.7,599.0 268.0,595.6 268.2,609.5 268.5,614.4 268.7,621.6 269.0,636.8 269.2,647.5 269.5,647.9 269.7,647.8 270.0,669.9 270.3,655.4 270.5,668.1 270.8,662.6 271.1,643.4 271.3,644.6 271.6,652.3 271.8,661.9 272.1,659.9 272.4,651.8 272.6,646.0 272.9,633.4 273.2,631.4 273.4,629.7 273.7,624.2 273.9,626.4 274.2,622.1 274.5,624.0 274.7,630.5 275.0,626.1 275.3,620.5 275.5,612.1 275.8,598.5 276.1,601.7 276.3,605.6 276.6,594.4 276.8,604.4 277.1,595.0 277.4,594.9 277.6,589.5 277.9,589.8 278.2,613.1 278.4,603.9 278.7,619.2 279.0,618.3 279.2,627.8 279.5,627.6 279.8,634.3 280.1,650.0 280.3,666.7 280.6,657.0 280.9,663.6 281.1,669.9 281.4,660.7 281.7,660.0 281.9,644.6 282.2,644.3 282.5,638.4 282.7,637.2 283.0,626.2 283.3,606.8 283.5,608.4 283.8,598.8 284.1,602.6 284.3,612.3 284.6,609.9 284.8,601.7 285.1,611.6 285.4,608.6 285.6,598.3 285.9,601.5 286.1,615.7 286.4,609.2 286.6,610.6 286.9,608.4 287.2,598.9 287.4,604.4 287.7,613.0 287.9,614.3 288.2,620.7 288.5,613.4 288.7,638.9 289.0,649.0 289.3,659.3 289.6,669.5 289.8,665.5 290.1,667.6 290.4,679.4 290.6,697.7 290.9,692.8 291.2,699.9 291.4,707.1" fill="none" stroke="#0072BD" stroke-width="0.9" stroke-linejoin="round"/>
<polyline points="304.4,709.1 304.7,695.7 304.9,682.3 305.2,670.7 305.4,647.5 305.6,639.6 305.9,628.7 306.1,618.6 306.4,634.1 306.7,630.8 306.9,639.1 307.2,629.1 307.5,643.6 307.7,632.0 308.0,646.4 308.2,632.5 308.5,651.1 308.8,646.4 309.0,637.5 309.3,644.8 309.6,652.4 309.8,646.8 310.1,649.5 310.4,656.8 310.6,658.6 310.9,631.5 311.1,637.5 311.4,642.1 311.6,639.5 311.9,640.1 312.2,625.0 312.4,639.1 312.7,628.3 312.9,617.7 313.2,616.0 313.5,611.1 313.7,595.7 314.0,595.6 314.2,607.3 314.5,609.0 314.7,595.1 315.0,597.5 315.3,611.1 315.5,615.1 315.8,619.5 316.0,625.3 316.3,625.6 316.5,637.6 316.8,628.3 317.1,628.1 317.3,634.9 317.6,642.0 317.8,639.0 318.1,635.1 318.4,632.5 318.6,636.0 318.9,629.8 319.1,614.6 319.4,613.1 319.6,625.6 319.9,608.1 319.9,608.4 320.0,608.1 320.3,611.0 320.5,607.6 320.8,615.9 321.0,637.1 321.3,635.8 321.5,634.6 321.8,627.7 322.1,625.7 322.3,634.1 322.6,637.5 322.8,665.2 323.1,653.3 323.4,649.8 323.6,663.1 323.9,662.6 324.1,655.5 324.4,672.9 324.6,670.0 324.9,664.1 325.2,675.8 325.4,683.3 325.7,682.4 325.9,691.6 326.2,690.6 326.4,681.4 326.7,663.9 327.0,651.8 327.2,659.9 327.5,668.6 327.7,666.5 328.0,665.0 328.2,664.1 328.5,647.3 328.8,645.2 329.0,622.7 329.3,624.6 329.5,631.8 329.8,632.6 330.1,632.8 330.4,630.6 330.6,641.0 330.9,655.1 331.2,650.9 331.4,658.1 331.7,654.7 332.0,661.7 332.2,652.4 332.5,657.0 332.7,652.8 333.0,653.5 333.2,645.6 333.5,637.3 333.8,638.7 334.0,647.1 334.3,652.3 334.5,639.1 334.8,640.8 335.1,639.5 335.3,634.8 335.6,618.0 335.8,623.6 336.1,614.9 336.3,625.3 336.6,624.6 336.9,621.5 337.1,596.8 337.4,608.6 337.6,611.7 337.9,597.3 338.1,606.4 338.4,601.7 338.7,596.6 338.9,589.5 339.2,583.3 339.4,583.6 339.7,606.7 339.9,593.0 340.2,582.3 340.5,583.0 340.7,584.3 341.0,587.6 341.2,588.9 341.5,604.0 341.8,603.7 342.0,613.9 342.3,605.8 342.6,619.9 342.8,620.6 343.1,628.0 343.3,627.7 343.6,624.4 343.9,640.4 344.1,636.9 344.4,640.0 344.6,638.4 344.9,647.8 345.2,652.4 345.4,651.0 345.7,650.5 345.9,641.5 346.2,631.8 346.5,639.8 346.7,644.5 347.0,643.0 347.3,628.1 347.5,633.6 347.8,632.5 348.0,629.9 348.3,628.4 348.6,621.1 348.8,620.8 349.1,624.2 349.4,613.8 349.6,602.1 349.9,605.9 350.1,607.7 350.4,592.6 350.7,593.9 350.9,600.9 351.2,601.8 351.4,604.5 351.7,601.5 352.0,610.7 352.2,622.5 352.5,614.0 352.7,608.3 353.0,604.4 353.2,618.5 353.5,618.9 353.8,613.9 354.0,627.2 354.3,629.8 354.5,630.7 354.8,615.5 355.1,622.8 355.3,631.5 355.6,622.7 355.8,635.7 356.1,644.9 356.3,646.4 356.6,635.7 356.9,633.1 357.1,644.8 357.4,650.3 357.6,654.9 357.9,657.4 358.1,650.2 358.4,646.6 358.7,636.3 358.9,652.2 359.2,655.4 359.4,657.2 359.7,653.9 359.9,660.0 360.2,659.6 360.5,646.7 360.7,642.3 361.0,635.0 361.2,651.2 361.5,634.7 361.8,636.8 362.0,641.9 362.3,640.5 362.5,633.6 362.8,629.6 363.0,605.0 363.3,602.9 363.6,601.6 363.8,608.5 364.1,634.5 364.3,616.7 364.6,629.3 364.8,624.3 365.1,643.8 365.4,653.5 365.6,647.4 365.9,660.4 366.1,662.4 366.4,661.7 366.7,661.4 366.9,647.1 367.2,639.2 367.5,634.2 367.7,633.4 368.0,625.5 368.3,634.2 368.5,615.3 368.8,602.6 369.1,597.8 369.3,597.7 369.6,598.0 369.8,600.9 370.1,619.5 370.4,623.2 370.6,626.0 370.9,633.8 371.1,644.7 371.4,648.5 371.6,654.0 371.9,649.8 372.2,653.5 372.4,654.4 372.7,662.6 372.9,663.5 373.2,675.1 373.4,668.3 373.7,664.9 373.9,660.9 374.2,655.4 374.4,663.7 374.7,652.5 374.9,641.4 375.2,643.5 375.4,632.8 375.7,637.0 375.9,637.0 376.2,639.3 376.5,642.0 376.7,641.9 377.0,657.1 377.3,645.4 377.5,648.8 377.8,662.3 378.1,651.1 378.3,657.0 378.6,658.7 378.9,668.4 379.1,661.4 379.4,680.3 379.6,675.2 379.9,673.5 380.1,665.6 380.4,647.5 380.6,652.1 380.9,642.6 381.1,645.9 381.4,638.2 381.6,636.5 381.9,637.0 382.1,647.3 382.4,655.9 382.7,650.4 383.0,659.3 383.2,676.6 383.5,673.0 383.8,665.3 384.0,661.1 384.3,654.8 384.6,658.3 384.8,649.9 385.1,646.1 385.4,654.3 385.6,628.8 385.9,619.1 386.2,607.4 386.4,601.0 386.7,612.6 387.0,609.4 387.2,614.4 387.5,587.6 387.7,582.6 388.0,593.9 388.3,591.6 388.5,586.5 388.8,581.4 389.1,566.9 389.3,570.1 389.6,571.7 389.8,579.3 390.1,576.3 390.4,580.0 390.6,590.7 390.9,577.7 391.1,577.2 391.4,587.6 391.6,586.8 391.9,588.6 392.2,606.4 392.4,602.3 392.7,596.4 392.9,606.3 393.2,621.1 393.5,602.2 393.7,600.1 394.0,606.2 394.2,604.5 394.5,624.9 394.7,621.9 395.0,615.8 395.3,621.2 395.5,615.5 395.8,616.2 396.0,622.8 396.3,642.5 396.5,618.3 396.8,629.9 397.1,641.8 397.3,643.1 397.6,653.2 397.8,647.8 398.1,645.2 398.4,643.1 398.6,633.9 398.9,645.6 399.1,627.7 399.4,626.6 399.6,621.2 399.9,615.2 400.2,600.7 400.4,606.3 400.7,609.6 400.9,608.6 401.2,610.9 401.4,602.4 401.7,593.8 402.0,595.1 402.2,595.9 402.5,587.5 402.7,589.9 403.0,587.2 403.2,607.6 403.5,618.0 403.8,612.1 404.0,620.6 404.3,632.3 404.5,643.5 404.8,637.1 405.1,641.4 405.3,653.9 405.6,654.5 405.8,649.5 406.1,646.4 406.4,647.5 406.6,640.6 406.9,637.8 407.2,630.5 407.5,627.2 407.7,627.3 408.0,637.9 408.3,631.9 408.5,625.8 408.8,618.8 409.1,613.2 409.3,614.0 409.6,628.6 409.8,633.4 410.1,645.5 410.3,640.4 410.6,639.2 410.8,630.1 411.1,643.5 411.3,648.3 411.6,648.0 411.9,639.8 412.1,638.1 412.4,626.0 412.6,625.7 412.9,620.5 413.1,631.1 413.4,626.6 413.7,612.9 413.9,600.9 414.2,607.6 414.4,605.0 414.7,597.7 414.9,605.0 415.2,600.1 415.5,598.4 415.7,590.9 416.0,586.3 416.2,585.0 416.5,585.4 416.8,588.5 417.0,594.7 417.3,584.6 417.6,595.3 417.8,608.8 418.1,609.2 418.4,618.8 418.6,613.4 418.9,615.5 419.2,609.3 419.4,612.0 419.7,608.6 420.0,616.1 420.2,628.8 420.5,637.3 420.8,646.9 421.0,641.1 421.3,631.5 421.5,633.9 421.8,628.1 422.1,636.9 422.3,638.5 422.6,629.4 422.8,608.8 423.1,603.2 423.4,603.6 423.6,594.7 423.9,597.6 424.1,591.6 424.4,604.9 424.6,606.9 424.9,603.4 425.2,606.1 425.4,615.6 425.7,632.7 425.9,643.9 426.2,647.3 426.4,647.7 426.7,653.6 427.0,657.5 427.2,657.6 427.5,664.3 427.7,643.6 428.0,651.5 428.2,648.1 428.5,638.7 428.8,640.1 429.0,636.8 429.3,631.0 429.5,615.3 429.8,620.2 430.1,622.8 430.3,617.2 430.6,602.3 430.8,609.2 431.1,611.2 431.3,602.9 431.6,610.5 431.9,608.9 432.1,608.5 432.4,618.9 432.6,618.7 432.9,624.6 433.1,650.5 433.4,644.0 433.7,640.0 433.9,628.6 434.2,638.9 434.4,649.4 434.7,645.1 434.9,649.2 435.2,638.7 435.5,657.0 435.7,657.7 436.0,669.1 436.2,670.4 436.5,673.0 436.8,672.3 437.0,669.7 437.3,661.5 437.6,655.5 437.8,646.9 438.1,656.3 438.4,654.2 438.6,637.8 438.9,642.4 439.1,630.5 439.4,618.3 439.7,630.5 439.9,614.8 440.2,618.4 440.5,623.9 440.7,630.1 441.0,630.9 441.3,637.1 441.5,635.0 441.8,637.2 442.1,637.1 442.3,644.3 442.6,637.8 442.9,646.8 443.1,654.7 443.4,647.9 443.7,650.4 443.9,645.9 444.2,647.3 444.4,653.1 444.7,652.2 445.0,649.5 445.2,655.9 445.5,661.0 445.8,662.7 446.0,665.1 446.3,645.4 446.6,658.5 446.8,649.8 447.1,640.2 447.4,637.5 447.6,639.9 447.9,641.5 448.2,631.1 448.4,628.9 448.7,613.6 449.0,618.3 449.2,615.7 449.5,610.3 449.7,615.4 450.0,621.2 450.3,615.7 450.5,598.8 450.8,606.8 451.1,594.3 451.3,589.5 451.6,589.5 451.9,599.3 452.1,605.9 452.4,608.0 452.6,608.8 452.9,612.2 453.1,614.1 453.4,627.0 453.7,623.6 453.9,627.6 454.2,631.2 454.4,631.2 454.7,637.5 454.9,633.6 455.2,647.9 455.5,656.4 455.7,656.1 456.0,669.0 456.2,662.9 456.5,668.9 456.8,668.9 457.0,657.8 457.3,653.0 457.6,656.3 457.8,648.8 458.1,644.7 458.4,648.2 458.6,638.3 458.9,618.7 459.1,615.4 459.4,622.3 459.7,615.1 459.9,603.0 460.2,606.0 460.5,608.3 460.7,626.9 461.0,617.9 461.2,612.2 461.5,632.5 461.8,636.2 462.0,643.0 462.3,652.4 462.5,633.9 462.8,630.9 463.0,626.0 463.3,613.3 463.6,595.3 463.8,592.9 464.1,576.9 464.3,569.0 464.6,548.5 464.8,545.3 465.1,537.6 465.4,520.5 465.6,535.6 465.9,547.0 466.1,551.0 466.4,569.7 466.6,582.7 466.9,596.5 467.2,598.3 467.4,600.3 467.7,616.1 467.9,627.8 468.2,635.3 468.5,652.4 468.7,652.5 469.0,643.3 469.2,640.3 469.5,629.7 469.7,611.7 470.0,603.5 470.2,597.5 470.5,597.9 470.7,595.0 471.0,583.8 471.2,581.3 471.5,563.0 471.8,558.6 472.0,575.2 472.3,578.7 472.5,588.5 472.8,576.1 473.1,577.7 473.3,588.2 473.6,609.3 473.8,625.4 474.1,619.9 474.4,619.9 474.6,624.1 474.9,630.8 475.1,647.6 475.4,651.9 475.7,660.7 475.9,664.5 476.2,648.3 476.5,645.4 476.7,638.2 477.0,638.6 477.3,636.0 477.5,622.9 477.8,623.3 478.1,617.7 478.4,606.0 478.6,617.5 478.9,629.7 479.1,633.1 479.4,637.7 479.7,658.6 479.9,663.1 480.2,666.5 480.4,680.8 480.7,687.8 481.0,696.9 481.2,706.0" fill="none" stroke="#0072BD" stroke-width="0.9" stroke-linejoin="round"/>
<polyline points="494.8,713.2 495.1,700.6 495.4,688.0 495.6,665.4 495.9,665.4 496.1,649.8 496.4,629.0 496.6,633.9 496.9,612.2 497.2,623.8 497.4,615.6 497.7,607.4 498.0,628.5 498.2,621.4 498.5,628.2 498.8,634.7 499.0,620.9 499.3,626.8 499.5,625.5 499.8,634.4 500.1,634.4 500.3,626.9 500.6,634.6 500.9,643.2 501.1,640.1 501.4,646.1 501.7,641.8 501.9,644.8 502.2,649.7 502.4,651.2 502.7,660.6 503.0,662.8 503.2,664.0 503.5,656.5 503.8,655.6 504.0,640.2 504.3,646.9 504.5,650.7 504.8,638.5 505.1,627.7 505.3,622.3 505.6,625.7 505.8,617.4 506.1,602.6 506.3,599.8 506.6,591.6 506.9,589.4 507.1,580.7 507.4,578.8 507.6,578.2 507.9,594.4 508.1,583.5 508.4,588.2 508.7,597.7 508.9,605.6 509.2,605.8 509.4,625.5 509.7,619.5 509.9,637.4 510.2,647.9 510.5,648.4 510.7,655.5 511.0,650.5 511.2,648.6 511.5,630.0 511.8,626.9 512.0,635.5 512.3,631.7 512.5,625.7 512.8,617.3 513.0,613.8 513.3,609.7 513.6,630.1 513.8,607.1 514.1,615.7 514.3,609.0 514.6,602.3 514.8,594.7 515.1,596.8 515.4,612.6 515.7,613.1 515.9,612.0 516.2,613.4 516.5,618.5 516.7,613.5 517.0,619.8 517.3,622.4 517.5,634.2 517.8,640.6 518.1,628.4 518.4,643.1 518.6,642.7 518.9,625.3 519.1,616.5 519.4,624.8 519.6,616.5 519.9,607.9 520.1,596.1 520.4,598.0 520.6,590.2 520.9,589.2 521.1,586.8 521.4,584.3 521.6,573.0 521.9,578.2 522.1,589.6 522.4,598.4 522.6,609.0 522.9,613.6 523.1,622.9 523.4,629.5 523.6,637.5 523.9,651.0 524.1,660.7 524.4,653.5 524.6,651.9 524.9,645.6 525.2,637.8 525.4,634.9 525.7,621.3 525.9,620.2 526.2,613.9 526.4,581.7 526.7,592.7 527.0,594.2 527.2,599.9 527.5,577.2 527.7,573.1 528.0,569.4 528.2,560.7 528.5,571.6 528.8,575.3 529.0,571.1 529.3,569.8 529.5,577.8 529.8,602.7 530.1,612.9 530.3,587.8 530.6,586.5 530.8,606.1 531.1,610.7 531.3,611.7 531.6,623.5 531.9,627.2 532.1,632.8 532.4,634.9 532.6,625.7 532.9,636.1 533.2,625.8 533.4,631.3 533.7,628.4 534.0,621.0 534.2,617.3 534.5,613.0 534.8,597.3 535.0,600.4 535.3,604.8 535.6,590.6 535.8,584.6 536.1,595.7 536.3,610.2 536.6,603.3 536.8,619.9 537.1,627.3 537.3,642.1 537.6,643.5 537.8,649.9 538.1,653.6 538.3,666.5 538.6,675.1 538.8,666.3 539.1,663.0 539.3,656.5 539.6,661.0 539.9,648.6 540.1,638.1 540.4,635.8 540.7,646.5 540.9,636.7 541.2,638.5 541.4,637.2 541.7,625.5 542.0,627.5 542.2,623.9 542.5,616.2 542.8,606.4 543.0,604.7 543.3,593.1 543.5,593.4 543.8,588.7 544.1,591.5 544.3,586.4 544.6,586.1 544.9,597.3 545.1,605.5 545.4,602.6 545.7,598.0 545.9,606.9 546.2,591.7 546.5,601.2 546.7,614.5 547.0,631.0 547.2,619.8 547.5,633.5 547.8,645.8 548.0,649.0 548.3,622.8 548.6,639.5 548.8,641.1 549.1,649.3 549.4,644.3 549.6,647.3 549.9,650.4" fill="none" stroke="#0072BD" stroke-width="0.9" stroke-linejoin="round"/>
<polyline points="291.4,707.1 291.7,712.7 292.0,718.4 292.3,724.8 292.5,731.5 292.8,739.5 293.1,741.1 293.4,740.8 293.6,736.0 293.9,733.0 294.1,732.2 294.4,730.6 294.6,725.0 294.9,722.7 295.2,730.0 295.4,723.7 295.7,719.8 295.9,722.5 296.2,723.6 296.5,729.5 296.7,722.7 297.0,717.4 297.3,716.9 297.5,714.8 297.8,715.0 298.1,718.6 298.3,713.2 298.6,712.0 298.9,713.1 299.1,713.9 299.4,710.7 299.7,709.2 299.9,710.7 300.2,710.7 300.5,711.3 300.7,710.2 301.0,712.6 301.2,714.4 301.5,718.5 301.7,718.7 302.0,723.3 302.2,715.9 302.5,720.7 302.7,735.7 303.0,738.0 303.2,735.4 303.5,729.6 303.7,724.1 304.0,718.7 304.2,713.9 304.4,709.1" fill="none" stroke="#D95319" stroke-width="0.9" stroke-linejoin="round"/>
<polyline points="481.2,706.0 481.5,710.3 481.8,714.6 482.1,714.8 482.3,723.2 482.6,727.5 482.9,731.8 483.1,730.0 483.4,733.3 483.7,742.5 483.9,734.6 484.2,738.8 484.4,741.5 484.7,739.5 484.9,742.1 485.2,742.2 485.5,743.0 485.7,738.9 486.0,734.5 486.2,725.6 486.5,725.8 486.8,730.9 487.0,728.1 487.3,715.8 487.5,712.1 487.8,711.6 488.0,711.2 488.3,710.7 488.6,710.7 488.8,714.3 489.1,718.3 489.4,717.5 489.6,721.9 489.9,713.3 490.2,718.4 490.5,720.5 490.7,719.4 491.0,724.8 491.2,718.5 491.5,718.4 491.8,736.2 492.0,737.7 492.3,736.9 492.5,735.7 492.8,737.0 493.0,731.9 493.3,732.3 493.6,734.1 493.8,726.6 494.1,723.0 494.3,719.2 494.6,716.2 494.8,713.2" fill="none" stroke="#D95319" stroke-width="0.9" stroke-linejoin="round"/>
</g>
<line x1="253.00" y1="834.40" x2="253.00" y2="828.70" stroke="#231F20" stroke-width="2.0"/>
<line x1="253.00" y1="517.30" x2="253.00" y2="523.00" stroke="#231F20" stroke-width="2.0"/>
<line x1="403.00" y1="834.40" x2="403.00" y2="828.70" stroke="#231F20" stroke-width="2.0"/>
<line x1="403.00" y1="517.30" x2="403.00" y2="523.00" stroke="#231F20" stroke-width="2.0"/>
<rect x="103.00" y="517.30" width="450.00" height="317.10" fill="none" stroke="#231F20" stroke-width="2.0"/>
<text transform="translate(102.7 869.7) scale(0.9328 1)" font-size="30.44" text-anchor="middle" fill="#111111">0</text>
<text transform="translate(252.7 869.7) scale(0.9328 1)" font-size="30.44" text-anchor="middle" fill="#111111">100</text>
<text transform="translate(402.7 869.7) scale(0.9328 1)" font-size="30.44" text-anchor="middle" fill="#111111">200</text>
<text transform="translate(552.7 869.7) scale(0.9328 1)" font-size="30.44" text-anchor="middle" fill="#111111">300</text>
<text transform="translate(94.4 845.0) scale(0.9328 1)" font-size="30.44" text-anchor="end" fill="#111111">0</text>
<text transform="translate(94.4 527.9) scale(0.9328 1)" font-size="30.44" text-anchor="end" fill="#111111">0.1</text>
<text x="328.6" y="500" font-size="41" text-anchor="middle" font-weight="normal" fill="#000">2.8 µm Ø</text>
<text x="54" y="676" font-size="31.3" text-anchor="middle" fill="#111111" transform="rotate(-90 54 676)">D (µm<tspan font-size="25.0" dx="1.2" dy="-15.2">2</tspan><tspan dx="1" dy="15.2">/s)</tspan></text>
<text x="328" y="907.3" font-size="31.3" text-anchor="middle" font-weight="normal" fill="#111111">Time (s)</text>
</g>
<g id="panel-b">
<path d="M818.11,398.20L818.11,395.36L822.62,395.36L822.62,396.80L827.12,396.80L827.12,393.30L831.62,393.30L831.62,391.65L836.13,391.65L836.13,388.14L840.63,388.14L840.63,366.08L845.14,366.08L845.14,367.11L849.64,367.11L849.64,353.51L854.14,353.51L854.14,335.57L858.65,335.57L858.65,281.55L863.15,281.55L863.15,283.40L867.66,283.40L867.66,287.94L872.16,287.94L872.16,247.32L876.66,247.32L876.66,263.81L881.17,263.81L881.17,227.11L885.67,227.11L885.67,215.98L890.18,215.98L890.18,188.14L894.68,188.14L894.68,185.05L899.18,185.05L899.18,139.48L903.69,139.48L903.69,131.86L908.19,131.86L908.19,117.01L912.70,117.01L912.70,84.02L917.20,84.02L917.20,125.67L921.70,125.67L921.70,95.77L926.21,95.77L926.21,85.05L930.71,85.05L930.71,98.87L935.22,98.87L935.22,95.15L939.72,95.15L939.72,99.90L944.22,99.90L944.22,113.30L948.73,113.30L948.73,126.08L953.23,126.08L953.23,130.41L957.74,130.41L957.74,121.13L962.24,121.13L962.24,119.90L966.74,119.90L966.74,85.05L971.25,85.05L971.25,93.71L975.75,93.71L975.75,85.67L980.26,85.67L980.26,138.04L984.76,138.04L984.76,156.60L989.26,156.60L989.26,151.44L993.77,151.44L993.77,134.95L998.27,134.95L998.27,130.21L1002.78,130.21L1002.78,160.72L1007.28,160.72L1007.28,142.16L1011.78,142.16L1011.78,176.80L1016.29,176.80L1016.29,170.21L1020.79,170.21L1020.79,225.05L1025.30,225.05L1025.30,200.52L1029.80,200.52L1029.80,225.67L1034.30,225.67L1034.30,226.70L1038.81,226.70L1038.81,222.16L1043.31,222.16L1043.31,245.88L1047.82,245.88L1047.82,286.49L1052.32,286.49L1052.32,301.34L1056.82,301.34L1056.82,308.14L1061.33,308.14L1061.33,322.99L1065.83,322.99L1065.83,333.09L1070.34,333.09L1070.34,346.29L1074.84,346.29L1074.84,345.88L1079.34,345.88L1079.34,356.60L1083.85,356.60L1083.85,354.12L1088.35,354.12L1088.35,373.09L1092.86,373.09L1092.86,384.43L1097.36,384.43L1097.36,388.14L1101.86,388.14L1101.86,381.75L1106.37,381.75L1106.37,387.11L1110.87,387.11L1110.87,387.11L1115.38,387.11L1115.38,379.28L1119.88,379.28L1119.88,389.18L1124.38,389.18L1124.38,391.65L1128.89,391.65L1128.89,393.09L1133.39,393.09L1133.39,395.36L1137.90,395.36L1137.90,387.53L1142.40,387.53L1142.40,398.20Z" fill="#0072BD" fill-opacity="0.6" stroke="none"/>
<path d="M746.05,398.20L746.05,386.08L750.55,386.08L750.55,372.47L755.06,372.47L755.06,325.67L759.56,325.67L759.56,323.61L764.06,323.61L764.06,324.64L768.57,324.64L768.57,357.01L773.07,357.01L773.07,378.25L777.58,378.25L777.58,392.68L782.08,392.68L782.08,391.65L786.58,391.65L786.58,388.14L791.09,388.14L791.09,392.68L795.59,392.68L795.59,394.12L800.10,394.12L800.10,394.74L804.60,394.74L804.60,396.19L809.10,396.19L809.10,397.01L813.61,397.01L813.61,395.77L818.11,395.77L818.11,397.01L822.62,397.01L822.62,398.20ZM827.12,398.20L827.12,395.77L831.62,395.77L831.62,395.36L836.13,395.36L836.13,398.20ZM917.20,398.20L917.20,397.01L921.70,397.01L921.70,396.60L926.21,396.60L926.21,398.20Z" fill="#D95319" fill-opacity="0.6" stroke="none"/>
<line x1="782.08" y1="398.20" x2="782.08" y2="392.50" stroke="#231F20" stroke-width="2.0"/>
<line x1="782.08" y1="81.20" x2="782.08" y2="86.90" stroke="#231F20" stroke-width="2.0"/>
<line x1="872.16" y1="398.20" x2="872.16" y2="392.50" stroke="#231F20" stroke-width="2.0"/>
<line x1="872.16" y1="81.20" x2="872.16" y2="86.90" stroke="#231F20" stroke-width="2.0"/>
<line x1="962.24" y1="398.20" x2="962.24" y2="392.50" stroke="#231F20" stroke-width="2.0"/>
<line x1="962.24" y1="81.20" x2="962.24" y2="86.90" stroke="#231F20" stroke-width="2.0"/>
<line x1="1052.32" y1="398.20" x2="1052.32" y2="392.50" stroke="#231F20" stroke-width="2.0"/>
<line x1="1052.32" y1="81.20" x2="1052.32" y2="86.90" stroke="#231F20" stroke-width="2.0"/>
<line x1="692.00" y1="334.80" x2="697.70" y2="334.80" stroke="#231F20" stroke-width="2.0"/>
<line x1="1142.40" y1="334.80" x2="1136.70" y2="334.80" stroke="#231F20" stroke-width="2.0"/>
<line x1="692.00" y1="271.40" x2="697.70" y2="271.40" stroke="#231F20" stroke-width="2.0"/>
<line x1="1142.40" y1="271.40" x2="1136.70" y2="271.40" stroke="#231F20" stroke-width="2.0"/>
<line x1="692.00" y1="208.00" x2="697.70" y2="208.00" stroke="#231F20" stroke-width="2.0"/>
<line x1="1142.40" y1="208.00" x2="1136.70" y2="208.00" stroke="#231F20" stroke-width="2.0"/>
<line x1="692.00" y1="144.60" x2="697.70" y2="144.60" stroke="#231F20" stroke-width="2.0"/>
<line x1="1142.40" y1="144.60" x2="1136.70" y2="144.60" stroke="#231F20" stroke-width="2.0"/>
<rect x="692.00" y="81.20" width="450.40" height="317.00" fill="none" stroke="#231F20" stroke-width="2.0"/>
<text transform="translate(691.7 433.7) scale(0.9328 1)" font-size="30.44" text-anchor="middle" fill="#111111">0</text>
<text transform="translate(781.8 433.7) scale(0.9328 1)" font-size="30.44" text-anchor="middle" fill="#111111">0.1</text>
<text transform="translate(871.9 433.7) scale(0.9328 1)" font-size="30.44" text-anchor="middle" fill="#111111">0.2</text>
<text transform="translate(961.9 433.7) scale(0.9328 1)" font-size="30.44" text-anchor="middle" fill="#111111">0.3</text>
<text transform="translate(1052.0 433.7) scale(0.9328 1)" font-size="30.44" text-anchor="middle" fill="#111111">0.4</text>
<text transform="translate(1142.1 433.7) scale(0.9328 1)" font-size="30.44" text-anchor="middle" fill="#111111">0.5</text>
<text transform="translate(683.4 408.8) scale(0.9328 1)" font-size="30.44" text-anchor="end" fill="#111111">0</text>
<text transform="translate(683.4 345.4) scale(0.9328 1)" font-size="30.44" text-anchor="end" fill="#111111">1</text>
<text transform="translate(683.4 282.0) scale(0.9328 1)" font-size="30.44" text-anchor="end" fill="#111111">2</text>
<text transform="translate(683.4 218.6) scale(0.9328 1)" font-size="30.44" text-anchor="end" fill="#111111">3</text>
<text transform="translate(683.4 155.2) scale(0.9328 1)" font-size="30.44" text-anchor="end" fill="#111111">4</text>
<text transform="translate(683.4 91.8) scale(0.9328 1)" font-size="30.44" text-anchor="end" fill="#111111">5</text>
<text x="910" y="67.7" font-size="41" text-anchor="middle" font-weight="normal" fill="#000">n = 1</text>
<text y="75" font-size="29" fill="#111111"><tspan x="693.5" y="79.2" font-size="34">×</tspan><tspan x="714.9" y="75">10</tspan><tspan x="746.7" y="61.8" font-size="23.2">2</tspan></text>
<text x="657.3" y="239.8" font-size="31.3" text-anchor="middle" font-weight="normal" fill="#111111" transform="rotate(-90 657.3 239.8)">Counts</text>
<path d="M733.00,834.30L733.00,823.56L737.49,823.56L737.49,792.22L741.98,792.22L741.98,676.13L746.47,676.13L746.47,536.96L750.96,536.96L750.96,562.73L755.45,562.73L755.45,676.75L759.94,676.75L759.94,767.27L764.42,767.27L764.42,802.94L768.91,802.94L768.91,825.21L773.40,825.21L773.40,830.36L777.89,830.36L777.89,831.39L782.38,831.39L782.38,834.30Z" fill="#0072BD" fill-opacity="0.6" stroke="none"/>
<path d="M715.05,834.30L715.05,830.36L719.53,830.36L719.53,797.78L724.02,797.78L724.02,810.57L728.51,810.57L728.51,831.80L733.00,831.80L733.00,832.22L737.49,832.22L737.49,832.01L741.98,832.01L741.98,831.19L746.47,831.19L746.47,831.80L750.96,831.80L750.96,834.30Z" fill="#D95319" fill-opacity="0.6" stroke="none"/>
<line x1="782.38" y1="834.30" x2="782.38" y2="828.60" stroke="#231F20" stroke-width="2.0"/>
<line x1="782.38" y1="517.30" x2="782.38" y2="523.00" stroke="#231F20" stroke-width="2.0"/>
<line x1="872.16" y1="834.30" x2="872.16" y2="828.60" stroke="#231F20" stroke-width="2.0"/>
<line x1="872.16" y1="517.30" x2="872.16" y2="523.00" stroke="#231F20" stroke-width="2.0"/>
<line x1="961.94" y1="834.30" x2="961.94" y2="828.60" stroke="#231F20" stroke-width="2.0"/>
<line x1="961.94" y1="517.30" x2="961.94" y2="523.00" stroke="#231F20" stroke-width="2.0"/>
<line x1="1051.72" y1="834.30" x2="1051.72" y2="828.60" stroke="#231F20" stroke-width="2.0"/>
<line x1="1051.72" y1="517.30" x2="1051.72" y2="523.00" stroke="#231F20" stroke-width="2.0"/>
<line x1="692.60" y1="770.90" x2="698.30" y2="770.90" stroke="#231F20" stroke-width="2.0"/>
<line x1="1141.50" y1="770.90" x2="1135.80" y2="770.90" stroke="#231F20" stroke-width="2.0"/>
<line x1="692.60" y1="707.50" x2="698.30" y2="707.50" stroke="#231F20" stroke-width="2.0"/>
<line x1="1141.50" y1="707.50" x2="1135.80" y2="707.50" stroke="#231F20" stroke-width="2.0"/>
<line x1="692.60" y1="644.10" x2="698.30" y2="644.10" stroke="#231F20" stroke-width="2.0"/>
<line x1="1141.50" y1="644.10" x2="1135.80" y2="644.10" stroke="#231F20" stroke-width="2.0"/>
<line x1="692.60" y1="580.70" x2="698.30" y2="580.70" stroke="#231F20" stroke-width="2.0"/>
<line x1="1141.50" y1="580.70" x2="1135.80" y2="580.70" stroke="#231F20" stroke-width="2.0"/>
<rect x="692.60" y="517.30" width="448.90" height="317.00" fill="none" stroke="#231F20" stroke-width="2.0"/>
<text transform="translate(692.3 869.6) scale(0.9328 1)" font-size="30.44" text-anchor="middle" fill="#111111">0</text>
<text transform="translate(782.1 869.6) scale(0.9328 1)" font-size="30.44" text-anchor="middle" fill="#111111">0.1</text>
<text transform="translate(871.9 869.6) scale(0.9328 1)" font-size="30.44" text-anchor="middle" fill="#111111">0.2</text>
<text transform="translate(961.6 869.6) scale(0.9328 1)" font-size="30.44" text-anchor="middle" fill="#111111">0.3</text>
<text transform="translate(1051.4 869.6) scale(0.9328 1)" font-size="30.44" text-anchor="middle" fill="#111111">0.4</text>
<text transform="translate(1141.2 869.6) scale(0.9328 1)" font-size="30.44" text-anchor="middle" fill="#111111">0.5</text>
<text transform="translate(684.0 844.9) scale(0.9328 1)" font-size="30.44" text-anchor="end" fill="#111111">0</text>
<text transform="translate(684.0 781.5) scale(0.9328 1)" font-size="30.44" text-anchor="end" fill="#111111">1</text>
<text transform="translate(684.0 718.1) scale(0.9328 1)" font-size="30.44" text-anchor="end" fill="#111111">2</text>
<text transform="translate(684.0 654.7) scale(0.9328 1)" font-size="30.44" text-anchor="end" fill="#111111">3</text>
<text transform="translate(684.0 591.3) scale(0.9328 1)" font-size="30.44" text-anchor="end" fill="#111111">4</text>
<text transform="translate(684.0 527.9) scale(0.9328 1)" font-size="30.44" text-anchor="end" fill="#111111">5</text>
<text x="905.8" y="500.9" font-size="41" text-anchor="middle" font-weight="normal" fill="#000">n = 1</text>
<text y="511" font-size="29" fill="#111111"><tspan x="694.1" y="515.2" font-size="34">×</tspan><tspan x="715.5" y="511">10</tspan><tspan x="747.3" y="497.8" font-size="23.2">3</tspan></text>
<text x="660.3" y="675.5" font-size="31.3" text-anchor="middle" font-weight="normal" fill="#111111" transform="rotate(-90 660.3 675.5)">Counts</text>
<text x="917" y="916" font-size="31.3" text-anchor="middle" fill="#111111">D (µm<tspan font-size="25.0" dx="1.2" dy="-15.2">2</tspan><tspan dx="1" dy="15.2">/s)</tspan></text>
</g>
<g id="panel-c">
<path d="M1375.46,399.00L1375.46,397.43L1375.91,397.43L1375.91,397.36L1376.36,397.36L1376.36,397.30L1376.81,397.30L1376.81,397.23L1377.26,397.23L1377.26,397.16L1377.71,397.16L1377.71,397.09L1378.16,397.09L1378.16,397.03L1378.61,397.03L1378.61,396.90L1379.06,396.90L1379.06,396.90L1379.51,396.90L1379.51,396.51L1379.96,396.51L1379.96,396.60L1380.41,396.60L1380.41,396.32L1380.86,396.32L1380.86,396.18L1381.31,396.18L1381.31,396.33L1381.76,396.33L1381.76,395.98L1382.21,395.98L1382.21,395.83L1382.66,395.83L1382.66,395.82L1383.11,395.82L1383.11,395.76L1383.56,395.76L1383.56,395.49L1384.01,395.49L1384.01,395.48L1384.46,395.48L1384.46,395.16L1384.91,395.16L1384.91,395.15L1385.36,395.15L1385.36,395.05L1385.81,395.05L1385.81,394.83L1386.26,394.83L1386.26,394.73L1386.71,394.73L1386.71,394.63L1387.16,394.63L1387.16,394.77L1387.61,394.77L1387.61,394.71L1388.06,394.71L1388.06,394.61L1388.51,394.61L1388.51,394.60L1388.96,394.60L1388.96,394.31L1389.41,394.31L1389.41,394.44L1389.86,394.44L1389.86,394.41L1390.31,394.41L1390.31,394.43L1390.76,394.43L1390.76,394.09L1391.21,394.09L1391.21,394.09L1391.66,394.09L1391.66,393.75L1392.11,393.75L1392.11,393.92L1392.56,393.92L1392.56,393.55L1393.01,393.55L1393.01,393.59L1393.46,393.59L1393.46,393.92L1393.91,393.92L1393.91,393.25L1394.36,393.25L1394.36,393.67L1394.81,393.67L1394.81,393.48L1395.26,393.48L1395.26,393.25L1395.71,393.25L1395.71,393.27L1396.16,393.27L1396.16,393.16L1396.61,393.16L1396.61,393.13L1397.06,393.13L1397.06,392.76L1397.51,392.76L1397.51,392.55L1397.96,392.55L1397.96,392.41L1398.41,392.41L1398.41,392.20L1398.86,392.20L1398.86,392.25L1399.31,392.25L1399.31,391.97L1399.76,391.97L1399.76,392.20L1400.21,392.20L1400.21,391.48L1400.66,391.48L1400.66,391.50L1401.11,391.50L1401.11,391.39L1401.56,391.39L1401.56,391.02L1402.01,391.02L1402.01,391.70L1402.46,391.70L1402.46,390.64L1402.91,390.64L1402.91,390.91L1403.36,390.91L1403.36,390.68L1403.81,390.68L1403.81,390.95L1404.26,390.95L1404.26,389.95L1404.71,389.95L1404.71,390.40L1405.16,390.40L1405.16,389.76L1405.61,389.76L1405.61,389.64L1406.06,389.64L1406.06,389.26L1406.51,389.26L1406.51,389.30L1406.96,389.30L1406.96,388.59L1407.41,388.59L1407.41,388.54L1407.86,388.54L1407.86,388.35L1408.31,388.35L1408.31,388.40L1408.76,388.40L1408.76,387.00L1409.21,387.00L1409.21,387.64L1409.66,387.64L1409.66,387.13L1410.11,387.13L1410.11,386.36L1410.56,386.36L1410.56,386.17L1411.01,386.17L1411.01,385.54L1411.46,385.54L1411.46,385.68L1411.91,385.68L1411.91,384.82L1412.36,384.82L1412.36,384.23L1412.81,384.23L1412.81,383.73L1413.26,383.73L1413.26,383.23L1413.71,383.23L1413.71,382.71L1414.16,382.71L1414.16,381.96L1414.61,381.96L1414.61,382.33L1415.06,382.33L1415.06,380.51L1415.51,380.51L1415.51,379.37L1415.96,379.37L1415.96,379.89L1416.41,379.89L1416.41,379.27L1416.86,379.27L1416.86,378.81L1417.31,378.81L1417.31,377.96L1417.76,377.96L1417.76,377.31L1418.21,377.31L1418.21,376.79L1418.66,376.79L1418.66,376.32L1419.11,376.32L1419.11,375.08L1419.56,375.08L1419.56,374.37L1420.01,374.37L1420.01,374.49L1420.46,374.49L1420.46,373.20L1420.91,373.20L1420.91,371.82L1421.36,371.82L1421.36,372.31L1421.81,372.31L1421.81,370.87L1422.26,370.87L1422.26,369.47L1422.71,369.47L1422.71,368.34L1423.16,368.34L1423.16,368.05L1423.61,368.05L1423.61,366.64L1424.06,366.64L1424.06,365.59L1424.51,365.59L1424.51,364.51L1424.96,364.51L1424.96,363.86L1425.41,363.86L1425.41,363.56L1425.86,363.56L1425.86,361.82L1426.31,361.82L1426.31,360.30L1426.76,360.30L1426.76,360.23L1427.21,360.23L1427.21,358.87L1427.66,358.87L1427.66,358.16L1428.11,358.16L1428.11,357.25L1428.56,357.25L1428.56,355.47L1429.01,355.47L1429.01,354.37L1429.46,354.37L1429.46,353.29L1429.91,353.29L1429.91,351.59L1430.36,351.59L1430.36,351.36L1430.81,351.36L1430.81,350.57L1431.26,350.57L1431.26,348.77L1431.71,348.77L1431.71,347.36L1432.16,347.36L1432.16,346.15L1432.61,346.15L1432.61,344.66L1433.06,344.66L1433.06,343.43L1433.51,343.43L1433.51,342.43L1433.96,342.43L1433.96,340.94L1434.41,340.94L1434.41,339.92L1434.86,339.92L1434.86,337.99L1435.31,337.99L1435.31,337.84L1435.76,337.84L1435.76,336.39L1436.21,336.39L1436.21,334.37L1436.66,334.37L1436.66,332.36L1437.11,332.36L1437.11,332.44L1437.56,332.44L1437.56,331.80L1438.01,331.80L1438.01,329.31L1438.46,329.31L1438.46,328.12L1438.91,328.12L1438.91,326.70L1439.36,326.70L1439.36,326.11L1439.81,326.11L1439.81,323.71L1440.26,323.71L1440.26,323.54L1440.71,323.54L1440.71,321.27L1441.16,321.27L1441.16,320.64L1441.61,320.64L1441.61,318.59L1442.06,318.59L1442.06,316.93L1442.51,316.93L1442.51,314.58L1442.96,314.58L1442.96,313.60L1443.41,313.60L1443.41,312.37L1443.86,312.37L1443.86,311.47L1444.31,311.47L1444.31,309.62L1444.76,309.62L1444.76,307.37L1445.21,307.37L1445.21,306.60L1445.66,306.60L1445.66,305.45L1446.11,305.45L1446.11,303.05L1446.56,303.05L1446.56,301.27L1447.01,301.27L1447.01,299.73L1447.46,299.73L1447.46,299.07L1447.91,299.07L1447.91,297.29L1448.36,297.29L1448.36,294.59L1448.81,294.59L1448.81,294.01L1449.26,294.01L1449.26,291.75L1449.71,291.75L1449.71,289.94L1450.16,289.94L1450.16,289.89L1450.61,289.89L1450.61,287.95L1451.06,287.95L1451.06,285.09L1451.51,285.09L1451.51,284.10L1451.96,284.10L1451.96,282.80L1452.41,282.80L1452.41,280.23L1452.86,280.23L1452.86,278.99L1453.31,278.99L1453.31,277.98L1453.76,277.98L1453.76,274.28L1454.21,274.28L1454.21,274.38L1454.66,274.38L1454.66,273.08L1455.11,273.08L1455.11,271.23L1455.56,271.23L1455.56,268.01L1456.01,268.01L1456.01,267.79L1456.46,267.79L1456.46,265.12L1456.91,265.12L1456.91,264.73L1457.36,264.73L1457.36,263.13L1457.81,263.13L1457.81,261.16L1458.26,261.16L1458.26,258.67L1458.71,258.67L1458.71,257.18L1459.16,257.18L1459.16,256.83L1459.61,256.83L1459.61,253.59L1460.06,253.59L1460.06,253.18L1460.51,253.18L1460.51,251.51L1460.96,251.51L1460.96,249.09L1461.41,249.09L1461.41,249.84L1461.86,249.84L1461.86,245.97L1462.31,245.97L1462.31,246.16L1462.76,246.16L1462.76,240.51L1463.21,240.51L1463.21,238.51L1463.66,238.51L1463.66,239.79L1464.11,239.79L1464.11,237.68L1464.56,237.68L1464.56,235.01L1465.01,235.01L1465.01,233.50L1465.46,233.50L1465.46,229.97L1465.91,229.97L1465.91,229.48L1466.36,229.48L1466.36,227.37L1466.81,227.37L1466.81,226.46L1467.26,226.46L1467.26,225.87L1467.71,225.87L1467.71,223.38L1468.16,223.38L1468.16,222.04L1468.61,222.04L1468.61,219.33L1469.06,219.33L1469.06,217.98L1469.51,217.98L1469.51,216.93L1469.96,216.93L1469.96,214.95L1470.41,214.95L1470.41,214.97L1470.86,214.97L1470.86,211.23L1471.31,211.23L1471.31,212.53L1471.76,212.53L1471.76,208.05L1472.21,208.05L1472.21,208.65L1472.66,208.65L1472.66,205.25L1473.11,205.25L1473.11,206.30L1473.56,206.30L1473.56,203.25L1474.01,203.25L1474.01,202.08L1474.46,202.08L1474.46,201.03L1474.91,201.03L1474.91,198.16L1475.36,198.16L1475.36,196.33L1475.81,196.33L1475.81,193.90L1476.26,193.90L1476.26,196.01L1476.71,196.01L1476.71,192.60L1477.16,192.60L1477.16,191.37L1477.61,191.37L1477.61,190.66L1478.06,190.66L1478.06,191.54L1478.51,191.54L1478.51,186.20L1478.96,186.20L1478.96,187.08L1479.41,187.08L1479.41,185.12L1479.86,185.12L1479.86,184.91L1480.31,184.91L1480.31,181.12L1480.76,181.12L1480.76,181.46L1481.21,181.46L1481.21,181.64L1481.66,181.64L1481.66,181.27L1482.11,181.27L1482.11,180.15L1482.56,180.15L1482.56,176.26L1483.01,176.26L1483.01,176.15L1483.46,176.15L1483.46,174.84L1483.91,174.84L1483.91,172.31L1484.36,172.31L1484.36,171.15L1484.81,171.15L1484.81,172.57L1485.26,172.57L1485.26,170.96L1485.71,170.96L1485.71,169.50L1486.16,169.50L1486.16,170.04L1486.61,170.04L1486.61,166.52L1487.06,166.52L1487.06,167.29L1487.51,167.29L1487.51,165.72L1487.96,165.72L1487.96,164.65L1488.41,164.65L1488.41,164.26L1488.86,164.26L1488.86,162.86L1489.31,162.86L1489.31,161.91L1489.76,161.91L1489.76,160.83L1490.21,160.83L1490.21,161.66L1490.66,161.66L1490.66,157.90L1491.11,157.90L1491.11,158.26L1491.56,158.26L1491.56,156.58L1492.01,156.58L1492.01,154.22L1492.46,154.22L1492.46,154.31L1492.91,154.31L1492.91,151.09L1493.36,151.09L1493.36,152.20L1493.81,152.20L1493.81,148.61L1494.26,148.61L1494.26,147.75L1494.71,147.75L1494.71,147.49L1495.16,147.49L1495.16,146.90L1495.61,146.90L1495.61,145.80L1496.06,145.80L1496.06,144.62L1496.51,144.62L1496.51,142.17L1496.96,142.17L1496.96,140.16L1497.41,140.16L1497.41,140.88L1497.86,140.88L1497.86,139.50L1498.31,139.50L1498.31,136.91L1498.76,136.91L1498.76,138.19L1499.21,138.19L1499.21,136.19L1499.66,136.19L1499.66,133.73L1500.11,133.73L1500.11,134.42L1500.56,134.42L1500.56,131.27L1501.01,131.27L1501.01,130.84L1501.46,130.84L1501.46,131.47L1501.91,131.47L1501.91,128.13L1502.36,128.13L1502.36,129.19L1502.81,129.19L1502.81,126.58L1503.26,126.58L1503.26,128.29L1503.71,128.29L1503.71,125.62L1504.16,125.62L1504.16,125.90L1504.61,125.90L1504.61,122.99L1505.06,122.99L1505.06,123.62L1505.51,123.62L1505.51,124.44L1505.96,124.44L1505.96,123.05L1506.41,123.05L1506.41,119.39L1506.86,119.39L1506.86,122.06L1507.31,122.06L1507.31,121.23L1507.76,121.23L1507.76,118.85L1508.21,118.85L1508.21,120.35L1508.66,120.35L1508.66,116.52L1509.11,116.52L1509.11,117.07L1509.56,117.07L1509.56,117.95L1510.01,117.95L1510.01,117.62L1510.46,117.62L1510.46,117.04L1510.91,117.04L1510.91,113.54L1511.36,113.54L1511.36,112.21L1511.81,112.21L1511.81,114.55L1512.26,114.55L1512.26,111.87L1512.71,111.87L1512.71,113.19L1513.16,113.19L1513.16,111.45L1513.61,111.45L1513.61,114.18L1514.06,114.18L1514.06,113.63L1514.51,113.63L1514.51,113.08L1514.96,113.08L1514.96,112.16L1515.41,112.16L1515.41,111.96L1515.86,111.96L1515.86,111.27L1516.31,111.27L1516.31,111.89L1516.76,111.89L1516.76,111.46L1517.21,111.46L1517.21,111.46L1517.66,111.46L1517.66,110.06L1518.11,110.06L1518.11,112.75L1518.56,112.75L1518.56,110.41L1519.01,110.41L1519.01,111.54L1519.46,111.54L1519.46,111.16L1519.91,111.16L1519.91,108.04L1520.36,108.04L1520.36,106.71L1520.81,106.71L1520.81,110.18L1521.26,110.18L1521.26,107.79L1521.71,107.79L1521.71,108.11L1522.16,108.11L1522.16,107.39L1522.61,107.39L1522.61,107.62L1523.06,107.62L1523.06,105.67L1523.51,105.67L1523.51,106.80L1523.96,106.80L1523.96,106.08L1524.41,106.08L1524.41,106.41L1524.86,106.41L1524.86,103.19L1525.31,103.19L1525.31,107.01L1525.76,107.01L1525.76,106.15L1526.21,106.15L1526.21,103.28L1526.66,103.28L1526.66,104.33L1527.11,104.33L1527.11,105.10L1527.56,105.10L1527.56,105.65L1528.01,105.65L1528.01,104.63L1528.46,104.63L1528.46,106.20L1528.91,106.20L1528.91,104.24L1529.36,104.24L1529.36,102.72L1529.81,102.72L1529.81,102.94L1530.26,102.94L1530.26,104.57L1530.71,104.57L1530.71,102.63L1531.16,102.63L1531.16,104.32L1531.61,104.32L1531.61,104.36L1532.06,104.36L1532.06,103.64L1532.51,103.64L1532.51,104.05L1532.96,104.05L1532.96,102.38L1533.41,102.38L1533.41,102.49L1533.86,102.49L1533.86,101.64L1534.31,101.64L1534.31,101.54L1534.76,101.54L1534.76,100.25L1535.21,100.25L1535.21,101.51L1535.66,101.51L1535.66,100.82L1536.11,100.82L1536.11,100.36L1536.56,100.36L1536.56,102.41L1537.01,102.41L1537.01,102.83L1537.46,102.83L1537.46,101.86L1537.91,101.86L1537.91,104.13L1538.36,104.13L1538.36,103.67L1538.81,103.67L1538.81,103.91L1539.26,103.91L1539.26,101.90L1539.71,101.90L1539.71,100.89L1540.16,100.89L1540.16,103.70L1540.61,103.70L1540.61,103.56L1541.06,103.56L1541.06,104.29L1541.51,104.29L1541.51,104.10L1541.96,104.10L1541.96,105.42L1542.41,105.42L1542.41,103.68L1542.86,103.68L1542.86,105.18L1543.31,105.18L1543.31,103.45L1543.76,103.45L1543.76,101.91L1544.21,101.91L1544.21,104.60L1544.66,104.60L1544.66,107.39L1545.11,107.39L1545.11,103.60L1545.56,103.60L1545.56,107.35L1546.01,107.35L1546.01,105.46L1546.46,105.46L1546.46,106.11L1546.91,106.11L1546.91,106.98L1547.36,106.98L1547.36,107.49L1547.81,107.49L1547.81,106.27L1548.26,106.27L1548.26,107.97L1548.71,107.97L1548.71,108.68L1549.16,108.68L1549.16,109.48L1549.61,109.48L1549.61,107.76L1550.06,107.76L1550.06,111.05L1550.51,111.05L1550.51,111.85L1550.96,111.85L1550.96,112.87L1551.41,112.87L1551.41,108.46L1551.86,108.46L1551.86,110.80L1552.31,110.80L1552.31,108.63L1552.76,108.63L1552.76,111.92L1553.21,111.92L1553.21,112.60L1553.66,112.60L1553.66,110.91L1554.11,110.91L1554.11,110.84L1554.56,110.84L1554.56,113.60L1555.01,113.60L1555.01,114.69L1555.46,114.69L1555.46,113.42L1555.91,113.42L1555.91,114.63L1556.36,114.63L1556.36,112.32L1556.81,112.32L1556.81,115.18L1557.26,115.18L1557.26,116.83L1557.71,116.83L1557.71,117.42L1558.16,117.42L1558.16,119.82L1558.61,119.82L1558.61,117.00L1559.06,117.00L1559.06,116.23L1559.51,116.23L1559.51,120.26L1559.96,120.26L1559.96,119.63L1560.41,119.63L1560.41,121.43L1560.86,121.43L1560.86,122.72L1561.31,122.72L1561.31,123.35L1561.76,123.35L1561.76,125.21L1562.21,125.21L1562.21,125.93L1562.66,125.93L1562.66,123.04L1563.11,123.04L1563.11,125.91L1563.56,125.91L1563.56,129.38L1564.01,129.38L1564.01,127.33L1564.46,127.33L1564.46,129.99L1564.91,129.99L1564.91,129.71L1565.36,129.71L1565.36,130.26L1565.81,130.26L1565.81,133.72L1566.26,133.72L1566.26,134.05L1566.71,134.05L1566.71,133.47L1567.16,133.47L1567.16,135.86L1567.61,135.86L1567.61,134.14L1568.06,134.14L1568.06,135.84L1568.51,135.84L1568.51,138.80L1568.96,138.80L1568.96,138.73L1569.41,138.73L1569.41,138.37L1569.86,138.37L1569.86,141.18L1570.31,141.18L1570.31,142.01L1570.76,142.01L1570.76,144.15L1571.21,144.15L1571.21,144.74L1571.66,144.74L1571.66,144.27L1572.11,144.27L1572.11,145.02L1572.56,145.02L1572.56,146.45L1573.01,146.45L1573.01,147.36L1573.46,147.36L1573.46,150.39L1573.91,150.39L1573.91,151.56L1574.36,151.56L1574.36,152.32L1574.81,152.32L1574.81,152.20L1575.26,152.20L1575.26,152.51L1575.71,152.51L1575.71,154.91L1576.16,154.91L1576.16,154.49L1576.61,154.49L1576.61,156.25L1577.06,156.25L1577.06,155.10L1577.51,155.10L1577.51,157.64L1577.96,157.64L1577.96,160.91L1578.41,160.91L1578.41,159.16L1578.86,159.16L1578.86,159.75L1579.31,159.75L1579.31,162.42L1579.76,162.42L1579.76,165.68L1580.21,165.68L1580.21,166.59L1580.66,166.59L1580.66,165.68L1581.11,165.68L1581.11,166.73L1581.56,166.73L1581.56,168.34L1582.01,168.34L1582.01,168.61L1582.46,168.61L1582.46,170.91L1582.91,170.91L1582.91,171.75L1583.36,171.75L1583.36,171.66L1583.81,171.66L1583.81,173.92L1584.26,173.92L1584.26,175.53L1584.71,175.53L1584.71,176.13L1585.16,176.13L1585.16,177.12L1585.61,177.12L1585.61,180.66L1586.06,180.66L1586.06,183.06L1586.51,183.06L1586.51,181.95L1586.96,181.95L1586.96,183.12L1587.41,183.12L1587.41,185.48L1587.86,185.48L1587.86,186.02L1588.31,186.02L1588.31,186.77L1588.76,186.77L1588.76,190.49L1589.21,190.49L1589.21,189.19L1589.66,189.19L1589.66,190.88L1590.11,190.88L1590.11,192.31L1590.56,192.31L1590.56,193.42L1591.01,193.42L1591.01,195.47L1591.46,195.47L1591.46,197.69L1591.91,197.69L1591.91,199.95L1592.36,199.95L1592.36,200.47L1592.81,200.47L1592.81,201.16L1593.26,201.16L1593.26,201.16L1593.71,201.16L1593.71,203.76L1594.16,203.76L1594.16,204.19L1594.61,204.19L1594.61,206.42L1595.06,206.42L1595.06,208.89L1595.51,208.89L1595.51,209.43L1595.96,209.43L1595.96,210.36L1596.41,210.36L1596.41,211.15L1596.86,211.15L1596.86,213.25L1597.31,213.25L1597.31,214.74L1597.76,214.74L1597.76,215.03L1598.21,215.03L1598.21,216.81L1598.66,216.81L1598.66,219.56L1599.11,219.56L1599.11,218.35L1599.56,218.35L1599.56,220.93L1600.01,220.93L1600.01,221.56L1600.46,221.56L1600.46,225.61L1600.91,225.61L1600.91,226.02L1601.36,226.02L1601.36,227.28L1601.81,227.28L1601.81,228.51L1602.26,228.51L1602.26,229.75L1602.71,229.75L1602.71,231.11L1603.16,231.11L1603.16,230.64L1603.61,230.64L1603.61,233.77L1604.06,233.77L1604.06,235.44L1604.51,235.44L1604.51,234.85L1604.96,234.85L1604.96,238.36L1605.41,238.36L1605.41,239.56L1605.86,239.56L1605.86,238.83L1606.31,238.83L1606.31,241.18L1606.76,241.18L1606.76,242.68L1607.21,242.68L1607.21,243.83L1607.66,243.83L1607.66,246.04L1608.11,246.04L1608.11,245.84L1608.56,245.84L1608.56,248.17L1609.01,248.17L1609.01,249.93L1609.46,249.93L1609.46,251.73L1609.91,251.73L1609.91,252.47L1610.36,252.47L1610.36,253.55L1610.81,253.55L1610.81,255.74L1611.26,255.74L1611.26,254.69L1611.71,254.69L1611.71,258.65L1612.16,258.65L1612.16,258.90L1612.61,258.90L1612.61,259.42L1613.06,259.42L1613.06,261.49L1613.51,261.49L1613.51,261.61L1613.96,261.61L1613.96,262.76L1614.41,262.76L1614.41,265.57L1614.86,265.57L1614.86,266.49L1615.31,266.49L1615.31,269.08L1615.76,269.08L1615.76,268.97L1616.21,268.97L1616.21,269.90L1616.66,269.90L1616.66,271.45L1617.11,271.45L1617.11,274.95L1617.56,274.95L1617.56,274.76L1618.01,274.76L1618.01,275.45L1618.46,275.45L1618.46,276.35L1618.91,276.35L1618.91,277.47L1619.36,277.47L1619.36,279.44L1619.81,279.44L1619.81,281.11L1620.26,281.11L1620.26,282.87L1620.71,282.87L1620.71,284.02L1621.16,284.02L1621.16,284.46L1621.61,284.46L1621.61,284.86L1622.06,284.86L1622.06,285.83L1622.51,285.83L1622.51,285.80L1622.96,285.80L1622.96,287.93L1623.41,287.93L1623.41,290.16L1623.86,290.16L1623.86,290.65L1624.31,290.65L1624.31,292.27L1624.76,292.27L1624.76,292.00L1625.21,292.00L1625.21,294.78L1625.66,294.78L1625.66,295.37L1626.11,295.37L1626.11,296.22L1626.56,296.22L1626.56,297.54L1627.01,297.54L1627.01,296.61L1627.46,296.61L1627.46,298.92L1627.91,298.92L1627.91,299.72L1628.36,299.72L1628.36,302.78L1628.81,302.78L1628.81,302.36L1629.26,302.36L1629.26,303.17L1629.71,303.17L1629.71,305.21L1630.16,305.21L1630.16,304.88L1630.61,304.88L1630.61,307.72L1631.06,307.72L1631.06,307.24L1631.51,307.24L1631.51,308.75L1631.96,308.75L1631.96,309.18L1632.41,309.18L1632.41,311.43L1632.86,311.43L1632.86,310.36L1633.31,310.36L1633.31,313.37L1633.76,313.37L1633.76,313.31L1634.21,313.31L1634.21,314.90L1634.66,314.90L1634.66,315.05L1635.11,315.05L1635.11,316.95L1635.56,316.95L1635.56,317.87L1636.01,317.87L1636.01,319.08L1636.46,319.08L1636.46,319.82L1636.91,319.82L1636.91,320.94L1637.36,320.94L1637.36,322.09L1637.81,322.09L1637.81,322.07L1638.26,322.07L1638.26,322.46L1638.71,322.46L1638.71,323.30L1639.16,323.30L1639.16,325.47L1639.61,325.47L1639.61,325.69L1640.06,325.69L1640.06,327.50L1640.51,327.50L1640.51,327.76L1640.96,327.76L1640.96,327.99L1641.41,327.99L1641.41,330.10L1641.86,330.10L1641.86,331.64L1642.31,331.64L1642.31,331.22L1642.76,331.22L1642.76,331.65L1643.21,331.65L1643.21,332.61L1643.66,332.61L1643.66,334.57L1644.11,334.57L1644.11,334.57L1644.56,334.57L1644.56,335.57L1645.01,335.57L1645.01,337.09L1645.46,337.09L1645.46,337.55L1645.91,337.55L1645.91,338.47L1646.36,338.47L1646.36,338.92L1646.81,338.92L1646.81,339.70L1647.26,339.70L1647.26,340.98L1647.71,340.98L1647.71,341.78L1648.16,341.78L1648.16,342.81L1648.61,342.81L1648.61,342.98L1649.06,342.98L1649.06,344.22L1649.51,344.22L1649.51,345.05L1649.96,345.05L1649.96,345.59L1650.41,345.59L1650.41,346.60L1650.86,346.60L1650.86,347.57L1651.31,347.57L1651.31,347.85L1651.76,347.85L1651.76,348.49L1652.21,348.49L1652.21,348.63L1652.66,348.63L1652.66,350.01L1653.11,350.01L1653.11,350.46L1653.56,350.46L1653.56,351.01L1654.01,351.01L1654.01,351.40L1654.46,351.40L1654.46,352.76L1654.91,352.76L1654.91,354.39L1655.36,354.39L1655.36,353.93L1655.81,353.93L1655.81,354.36L1656.26,354.36L1656.26,355.13L1656.71,355.13L1656.71,355.22L1657.16,355.22L1657.16,356.15L1657.61,356.15L1657.61,356.36L1658.06,356.36L1658.06,356.95L1658.51,356.95L1658.51,357.95L1658.96,357.95L1658.96,358.51L1659.41,358.51L1659.41,358.91L1659.86,358.91L1659.86,359.14L1660.31,359.14L1660.31,360.19L1660.76,360.19L1660.76,360.11L1661.21,360.11L1661.21,361.51L1661.66,361.51L1661.66,361.52L1662.11,361.52L1662.11,362.21L1662.56,362.21L1662.56,363.09L1663.01,363.09L1663.01,363.50L1663.46,363.50L1663.46,363.19L1663.91,363.19L1663.91,364.16L1664.36,364.16L1664.36,364.94L1664.81,364.94L1664.81,364.80L1665.26,364.80L1665.26,364.72L1665.71,364.72L1665.71,366.22L1666.16,366.22L1666.16,366.71L1666.61,366.71L1666.61,367.38L1667.06,367.38L1667.06,367.70L1667.51,367.70L1667.51,368.18L1667.96,368.18L1667.96,368.68L1668.41,368.68L1668.41,369.60L1668.86,369.60L1668.86,369.68L1669.31,369.68L1669.31,370.14L1669.76,370.14L1669.76,370.20L1670.21,370.20L1670.21,371.24L1670.66,371.24L1670.66,371.14L1671.11,371.14L1671.11,371.93L1671.56,371.93L1671.56,371.23L1672.01,371.23L1672.01,372.55L1672.46,372.55L1672.46,372.82L1672.91,372.82L1672.91,373.08L1673.36,373.08L1673.36,374.13L1673.81,374.13L1673.81,374.18L1674.26,374.18L1674.26,374.36L1674.71,374.36L1674.71,374.59L1675.16,374.59L1675.16,375.85L1675.61,375.85L1675.61,375.80L1676.06,375.80L1676.06,376.12L1676.51,376.12L1676.51,375.97L1676.96,375.97L1676.96,377.05L1677.41,377.05L1677.41,377.13L1677.86,377.13L1677.86,377.18L1678.31,377.18L1678.31,377.57L1678.76,377.57L1678.76,377.37L1679.21,377.37L1679.21,378.47L1679.66,378.47L1679.66,378.19L1680.11,378.19L1680.11,379.15L1680.56,379.15L1680.56,379.03L1681.01,379.03L1681.01,379.27L1681.46,379.27L1681.46,379.89L1681.91,379.89L1681.91,380.14L1682.36,380.14L1682.36,380.00L1682.81,380.00L1682.81,380.63L1683.26,380.63L1683.26,381.13L1683.71,381.13L1683.71,381.15L1684.16,381.15L1684.16,381.09L1684.61,381.09L1684.61,381.72L1685.06,381.72L1685.06,381.78L1685.51,381.78L1685.51,382.17L1685.96,382.17L1685.96,382.64L1686.41,382.64L1686.41,382.88L1686.86,382.88L1686.86,383.11L1687.31,383.11L1687.31,382.95L1687.76,382.95L1687.76,383.81L1688.21,383.81L1688.21,383.91L1688.66,383.91L1688.66,384.10L1689.11,384.10L1689.11,384.52L1689.56,384.52L1689.56,385.26L1690.01,385.26L1690.01,384.60L1690.46,384.60L1690.46,384.75L1690.91,384.75L1690.91,385.64L1691.36,385.64L1691.36,385.45L1691.81,385.45L1691.81,386.24L1692.26,386.24L1692.26,385.84L1692.71,385.84L1692.71,386.19L1693.16,386.19L1693.16,386.75L1693.61,386.75L1693.61,386.98L1694.06,386.98L1694.06,387.06L1694.51,387.06L1694.51,387.26L1694.96,387.26L1694.96,387.31L1695.41,387.31L1695.41,387.43L1695.86,387.43L1695.86,387.68L1696.31,387.68L1696.31,388.23L1696.76,388.23L1696.76,388.28L1697.21,388.28L1697.21,388.29L1697.66,388.29L1697.66,388.54L1698.11,388.54L1698.11,388.84L1698.56,388.84L1698.56,389.09L1699.01,389.09L1699.01,388.94L1699.46,388.94L1699.46,389.12L1699.91,389.12L1699.91,389.38L1700.36,389.38L1700.36,390.07L1700.81,390.07L1700.81,389.68L1701.26,389.68L1701.26,390.07L1701.71,390.07L1701.71,389.59L1702.16,389.59L1702.16,390.28L1702.61,390.28L1702.61,389.93L1703.06,389.93L1703.06,390.15L1703.51,390.15L1703.51,390.39L1703.96,390.39L1703.96,390.64L1704.41,390.64L1704.41,390.85L1704.86,390.85L1704.86,391.03L1705.31,391.03L1705.31,391.14L1705.76,391.14L1705.76,391.13L1706.21,391.13L1706.21,391.89L1706.66,391.89L1706.66,391.57L1707.11,391.57L1707.11,391.76L1707.56,391.76L1707.56,392.16L1708.01,392.16L1708.01,392.08L1708.46,392.08L1708.46,392.13L1708.91,392.13L1708.91,392.20L1709.36,392.20L1709.36,392.63L1709.81,392.63L1709.81,392.18L1710.26,392.18L1710.26,392.33L1710.71,392.33L1710.71,392.66L1711.16,392.66L1711.16,392.38L1711.61,392.38L1711.61,392.73L1712.06,392.73L1712.06,393.20L1712.51,393.20L1712.51,393.04L1712.96,393.04L1712.96,393.27L1713.41,393.27L1713.41,393.49L1713.86,393.49L1713.86,393.29L1714.31,393.29L1714.31,393.67L1714.76,393.67L1714.76,393.65L1715.21,393.65L1715.21,393.71L1715.66,393.71L1715.66,393.98L1716.11,393.98L1716.11,394.15L1716.56,394.15L1716.56,394.24L1717.01,394.24L1717.01,394.34L1717.46,394.34L1717.46,394.66L1717.91,394.66L1717.91,394.76L1718.36,394.76L1718.36,394.74L1718.81,394.74L1718.81,394.71L1719.26,394.71L1719.26,394.64L1719.71,394.64L1719.71,394.75L1719.90,394.75L1719.90,399.00Z" fill="#0072BD" fill-opacity="0.6" stroke="none"/>
<path d="M1288.87,399.00L1288.87,397.16L1289.32,397.16L1289.32,397.05L1289.77,397.05L1289.77,396.88L1290.22,396.88L1290.22,396.83L1290.67,396.83L1290.67,396.76L1291.12,396.76L1291.12,396.66L1291.57,396.66L1291.57,396.50L1292.02,396.50L1292.02,396.27L1292.47,396.27L1292.47,396.09L1292.92,396.09L1292.92,395.89L1293.37,395.89L1293.37,395.72L1293.82,395.72L1293.82,395.58L1294.27,395.58L1294.27,395.24L1294.72,395.24L1294.72,395.25L1295.17,395.25L1295.17,394.83L1295.62,394.83L1295.62,394.74L1296.07,394.74L1296.07,394.68L1296.52,394.68L1296.52,394.66L1296.97,394.66L1296.97,394.69L1297.42,394.69L1297.42,394.86L1297.87,394.86L1297.87,394.70L1298.32,394.70L1298.32,394.88L1298.77,394.88L1298.77,394.86L1299.22,394.86L1299.22,395.00L1299.67,395.00L1299.67,395.05L1300.12,395.05L1300.12,395.43L1300.57,395.43L1300.57,395.44L1301.02,395.44L1301.02,395.55L1301.47,395.55L1301.47,395.86L1301.92,395.86L1301.92,395.85L1302.37,395.85L1302.37,395.96L1302.82,395.96L1302.82,396.00L1303.27,396.00L1303.27,396.02L1303.72,396.02L1303.72,396.04L1304.17,396.04L1304.17,396.14L1304.62,396.14L1304.62,396.26L1305.07,396.26L1305.07,396.19L1305.52,396.19L1305.52,396.14L1305.97,396.14L1305.97,396.19L1306.42,396.19L1306.42,396.03L1306.87,396.03L1306.87,396.11L1307.32,396.11L1307.32,395.96L1307.77,395.96L1307.77,395.83L1308.22,395.83L1308.22,395.81L1308.67,395.81L1308.67,395.67L1309.12,395.67L1309.12,395.47L1309.57,395.47L1309.57,395.34L1310.02,395.34L1310.02,395.21L1310.47,395.21L1310.47,395.03L1310.92,395.03L1310.92,394.65L1311.37,394.65L1311.37,394.27L1311.82,394.27L1311.82,394.36L1312.27,394.36L1312.27,393.90L1312.72,393.90L1312.72,393.59L1313.17,393.59L1313.17,393.36L1313.62,393.36L1313.62,393.00L1314.07,393.00L1314.07,392.85L1314.52,392.85L1314.52,392.38L1314.97,392.38L1314.97,392.21L1315.42,392.21L1315.42,391.87L1315.87,391.87L1315.87,391.88L1316.32,391.88L1316.32,391.49L1316.77,391.49L1316.77,391.39L1317.22,391.39L1317.22,391.21L1317.67,391.21L1317.67,390.75L1318.12,390.75L1318.12,390.65L1318.57,390.65L1318.57,390.56L1319.02,390.56L1319.02,390.32L1319.47,390.32L1319.47,390.12L1319.92,390.12L1319.92,390.06L1320.37,390.06L1320.37,389.92L1320.82,389.92L1320.82,389.62L1321.27,389.62L1321.27,389.54L1321.72,389.54L1321.72,389.50L1322.17,389.50L1322.17,389.34L1322.62,389.34L1322.62,389.23L1323.07,389.23L1323.07,389.01L1323.52,389.01L1323.52,389.24L1323.97,389.24L1323.97,388.96L1324.42,388.96L1324.42,388.95L1324.87,388.95L1324.87,388.87L1325.32,388.87L1325.32,388.84L1325.77,388.84L1325.77,388.80L1326.22,388.80L1326.22,388.65L1326.67,388.65L1326.67,388.74L1327.12,388.74L1327.12,388.78L1327.57,388.78L1327.57,388.65L1328.02,388.65L1328.02,388.64L1328.47,388.64L1328.47,388.57L1328.92,388.57L1328.92,388.47L1329.37,388.47L1329.37,388.63L1329.82,388.63L1329.82,388.30L1330.27,388.30L1330.27,388.37L1330.72,388.37L1330.72,388.39L1331.17,388.39L1331.17,388.26L1331.62,388.26L1331.62,388.05L1332.07,388.05L1332.07,387.99L1332.52,387.99L1332.52,388.23L1332.97,388.23L1332.97,387.88L1333.42,387.88L1333.42,387.93L1333.87,387.93L1333.87,387.93L1334.32,387.93L1334.32,387.81L1334.77,387.81L1334.77,387.52L1335.22,387.52L1335.22,387.44L1335.67,387.44L1335.67,387.57L1336.12,387.57L1336.12,387.42L1336.57,387.42L1336.57,387.41L1337.02,387.41L1337.02,387.38L1337.47,387.38L1337.47,387.32L1337.92,387.32L1337.92,387.07L1338.37,387.07L1338.37,386.95L1338.82,386.95L1338.82,387.19L1339.27,387.19L1339.27,386.93L1339.72,386.93L1339.72,386.80L1340.17,386.80L1340.17,386.62L1340.62,386.62L1340.62,386.83L1341.07,386.83L1341.07,386.52L1341.52,386.52L1341.52,386.43L1341.97,386.43L1341.97,386.52L1342.42,386.52L1342.42,386.36L1342.87,386.36L1342.87,386.25L1343.32,386.25L1343.32,385.88L1343.77,385.88L1343.77,385.53L1344.22,385.53L1344.22,385.60L1344.67,385.60L1344.67,385.51L1345.12,385.51L1345.12,385.29L1345.57,385.29L1345.57,385.29L1346.02,385.29L1346.02,385.04L1346.47,385.04L1346.47,384.66L1346.92,384.66L1346.92,384.68L1347.37,384.68L1347.37,384.40L1347.82,384.40L1347.82,384.16L1348.27,384.16L1348.27,384.19L1348.72,384.19L1348.72,383.63L1349.17,383.63L1349.17,383.81L1349.62,383.81L1349.62,383.65L1350.07,383.65L1350.07,383.06L1350.52,383.06L1350.52,383.15L1350.97,383.15L1350.97,383.00L1351.42,383.00L1351.42,382.71L1351.87,382.71L1351.87,382.64L1352.32,382.64L1352.32,382.47L1352.77,382.47L1352.77,382.46L1353.22,382.46L1353.22,382.24L1353.67,382.24L1353.67,381.89L1354.12,381.89L1354.12,382.24L1354.57,382.24L1354.57,382.08L1355.02,382.08L1355.02,381.71L1355.47,381.71L1355.47,381.83L1355.92,381.83L1355.92,381.87L1356.37,381.87L1356.37,381.24L1356.82,381.24L1356.82,381.28L1357.27,381.28L1357.27,381.14L1357.72,381.14L1357.72,381.18L1358.17,381.18L1358.17,380.94L1358.62,380.94L1358.62,380.70L1359.07,380.70L1359.07,381.03L1359.52,381.03L1359.52,380.77L1359.97,380.77L1359.97,380.91L1360.42,380.91L1360.42,381.16L1360.87,381.16L1360.87,380.76L1361.32,380.76L1361.32,380.87L1361.77,380.87L1361.77,381.16L1362.22,381.16L1362.22,381.13L1362.67,381.13L1362.67,381.37L1363.12,381.37L1363.12,381.49L1363.57,381.49L1363.57,382.14L1364.02,382.14L1364.02,382.09L1364.47,382.09L1364.47,382.34L1364.92,382.34L1364.92,382.62L1365.37,382.62L1365.37,382.98L1365.82,382.98L1365.82,383.05L1366.27,383.05L1366.27,383.60L1366.72,383.60L1366.72,384.12L1367.17,384.12L1367.17,384.26L1367.62,384.26L1367.62,384.85L1368.07,384.85L1368.07,385.27L1368.52,385.27L1368.52,385.67L1368.97,385.67L1368.97,386.48L1369.42,386.48L1369.42,386.69L1369.87,386.69L1369.87,387.06L1370.32,387.06L1370.32,387.34L1370.77,387.34L1370.77,387.84L1371.22,387.84L1371.22,388.18L1371.67,388.18L1371.67,388.57L1372.12,388.57L1372.12,388.97L1372.57,388.97L1372.57,389.56L1373.02,389.56L1373.02,389.77L1373.47,389.77L1373.47,390.13L1373.92,390.13L1373.92,390.41L1374.37,390.41L1374.37,390.86L1374.82,390.86L1374.82,390.81L1375.27,390.81L1375.27,391.04L1375.72,391.04L1375.72,391.48L1376.17,391.48L1376.17,391.76L1376.62,391.76L1376.62,392.02L1377.07,392.02L1377.07,392.23L1377.52,392.23L1377.52,392.61L1377.97,392.61L1377.97,392.96L1378.42,392.96L1378.42,393.09L1378.87,393.09L1378.87,393.30L1379.32,393.30L1379.32,393.65L1379.77,393.65L1379.77,393.77L1380.22,393.77L1380.22,394.00L1380.67,394.00L1380.67,394.27L1381.12,394.27L1381.12,394.31L1381.57,394.31L1381.57,394.84L1382.02,394.84L1382.02,394.92L1382.47,394.92L1382.47,395.19L1382.92,395.19L1382.92,395.40L1383.37,395.40L1383.37,395.63L1383.82,395.63L1383.82,395.74L1384.27,395.74L1384.27,396.16L1384.72,396.16L1384.72,396.31L1385.17,396.31L1385.17,396.41L1385.62,396.41L1385.62,396.67L1386.07,396.67L1386.07,396.55L1386.52,396.55L1386.52,396.76L1386.97,396.76L1386.97,396.83L1387.42,396.83L1387.42,396.88L1387.84,396.88L1387.84,399.00Z" fill="#D95319" fill-opacity="0.6" stroke="none"/>
<line x1="1360.40" y1="399.00" x2="1360.40" y2="393.30" stroke="#231F20" stroke-width="2.0"/>
<line x1="1360.40" y1="82.30" x2="1360.40" y2="88.00" stroke="#231F20" stroke-width="2.0"/>
<line x1="1450.30" y1="399.00" x2="1450.30" y2="393.30" stroke="#231F20" stroke-width="2.0"/>
<line x1="1450.30" y1="82.30" x2="1450.30" y2="88.00" stroke="#231F20" stroke-width="2.0"/>
<line x1="1540.20" y1="399.00" x2="1540.20" y2="393.30" stroke="#231F20" stroke-width="2.0"/>
<line x1="1540.20" y1="82.30" x2="1540.20" y2="88.00" stroke="#231F20" stroke-width="2.0"/>
<line x1="1630.10" y1="399.00" x2="1630.10" y2="393.30" stroke="#231F20" stroke-width="2.0"/>
<line x1="1630.10" y1="82.30" x2="1630.10" y2="88.00" stroke="#231F20" stroke-width="2.0"/>
<line x1="1270.50" y1="293.43" x2="1276.20" y2="293.43" stroke="#231F20" stroke-width="2.0"/>
<line x1="1720.00" y1="293.43" x2="1714.30" y2="293.43" stroke="#231F20" stroke-width="2.0"/>
<line x1="1270.50" y1="187.87" x2="1276.20" y2="187.87" stroke="#231F20" stroke-width="2.0"/>
<line x1="1720.00" y1="187.87" x2="1714.30" y2="187.87" stroke="#231F20" stroke-width="2.0"/>
<rect x="1270.50" y="82.30" width="449.50" height="316.70" fill="none" stroke="#231F20" stroke-width="2.0"/>
<text transform="translate(1270.2 434.3) scale(0.9328 1)" font-size="30.44" text-anchor="middle" fill="#111111">0</text>
<text transform="translate(1360.1 434.3) scale(0.9328 1)" font-size="30.44" text-anchor="middle" fill="#111111">0.1</text>
<text transform="translate(1450.0 434.3) scale(0.9328 1)" font-size="30.44" text-anchor="middle" fill="#111111">0.2</text>
<text transform="translate(1539.9 434.3) scale(0.9328 1)" font-size="30.44" text-anchor="middle" fill="#111111">0.3</text>
<text transform="translate(1629.8 434.3) scale(0.9328 1)" font-size="30.44" text-anchor="middle" fill="#111111">0.4</text>
<text transform="translate(1719.7 434.3) scale(0.9328 1)" font-size="30.44" text-anchor="middle" fill="#111111">0.5</text>
<text transform="translate(1261.9 409.6) scale(0.9328 1)" font-size="30.44" text-anchor="end" fill="#111111">0</text>
<text transform="translate(1261.9 304.0) scale(0.9328 1)" font-size="30.44" text-anchor="end" fill="#111111">1</text>
<text transform="translate(1261.9 198.5) scale(0.9328 1)" font-size="30.44" text-anchor="end" fill="#111111">2</text>
<text transform="translate(1261.9 92.9) scale(0.9328 1)" font-size="30.44" text-anchor="end" fill="#111111">3</text>
<text x="1499" y="67.7" font-size="41" text-anchor="middle" font-weight="normal" fill="#000">n = 272</text>
<text y="76" font-size="29" fill="#111111"><tspan x="1272.0" y="80.2" font-size="34">×</tspan><tspan x="1293.4" y="76">10</tspan><tspan x="1325.2" y="62.8" font-size="23.2">4</tspan></text>
<text x="1236.2" y="240.3" font-size="31.3" text-anchor="middle" font-weight="normal" fill="#111111" transform="rotate(-90 1236.2 240.3)">Counts</text>
<path d="M1309.64,835.50L1309.64,834.28L1311.70,814.28L1313.76,789.54L1315.82,758.61L1317.89,729.74L1319.95,700.88L1322.01,674.07L1324.07,651.39L1326.13,634.90L1328.20,624.59L1329.64,622.53L1331.29,624.59L1333.35,636.96L1335.41,655.52L1337.47,680.26L1339.54,705.00L1341.60,729.74L1343.66,752.42L1345.72,770.98L1347.78,787.47L1349.85,799.85L1351.91,809.12L1353.97,816.34L1356.03,821.49L1358.09,825.21L1362.22,829.74L1368.40,832.22L1378.71,833.45L1399.33,834.28L1399.33,835.50Z" fill="#0072BD" fill-opacity="0.6" stroke="none"/>
<path d="M1279.74,835.50L1279.74,834.28L1282.84,830.77L1285.93,822.53L1289.02,808.09L1292.11,787.47L1295.21,764.79L1297.27,752.42L1299.95,745.82L1302.42,752.42L1304.48,766.86L1306.55,783.35L1308.61,799.85L1310.67,812.22L1312.73,822.53L1314.79,828.71L1316.86,831.80L1319.95,834.28L1319.95,835.50Z" fill="#D95319" fill-opacity="0.6" stroke="none"/>
<line x1="1359.02" y1="835.50" x2="1359.02" y2="829.80" stroke="#231F20" stroke-width="2.0"/>
<line x1="1359.02" y1="517.40" x2="1359.02" y2="523.10" stroke="#231F20" stroke-width="2.0"/>
<line x1="1449.24" y1="835.50" x2="1449.24" y2="829.80" stroke="#231F20" stroke-width="2.0"/>
<line x1="1449.24" y1="517.40" x2="1449.24" y2="523.10" stroke="#231F20" stroke-width="2.0"/>
<line x1="1539.46" y1="835.50" x2="1539.46" y2="829.80" stroke="#231F20" stroke-width="2.0"/>
<line x1="1539.46" y1="517.40" x2="1539.46" y2="523.10" stroke="#231F20" stroke-width="2.0"/>
<line x1="1629.68" y1="835.50" x2="1629.68" y2="829.80" stroke="#231F20" stroke-width="2.0"/>
<line x1="1629.68" y1="517.40" x2="1629.68" y2="523.10" stroke="#231F20" stroke-width="2.0"/>
<line x1="1268.80" y1="729.47" x2="1274.50" y2="729.47" stroke="#231F20" stroke-width="2.0"/>
<line x1="1719.90" y1="729.47" x2="1714.20" y2="729.47" stroke="#231F20" stroke-width="2.0"/>
<line x1="1268.80" y1="623.43" x2="1274.50" y2="623.43" stroke="#231F20" stroke-width="2.0"/>
<line x1="1719.90" y1="623.43" x2="1714.20" y2="623.43" stroke="#231F20" stroke-width="2.0"/>
<rect x="1268.80" y="517.40" width="451.10" height="318.10" fill="none" stroke="#231F20" stroke-width="2.0"/>
<text transform="translate(1268.5 871.1) scale(0.9328 1)" font-size="30.44" text-anchor="middle" fill="#111111">0</text>
<text transform="translate(1358.7 871.1) scale(0.9328 1)" font-size="30.44" text-anchor="middle" fill="#111111">0.1</text>
<text transform="translate(1448.9 871.1) scale(0.9328 1)" font-size="30.44" text-anchor="middle" fill="#111111">0.2</text>
<text transform="translate(1539.2 871.1) scale(0.9328 1)" font-size="30.44" text-anchor="middle" fill="#111111">0.3</text>
<text transform="translate(1629.4 871.1) scale(0.9328 1)" font-size="30.44" text-anchor="middle" fill="#111111">0.4</text>
<text transform="translate(1719.6 871.1) scale(0.9328 1)" font-size="30.44" text-anchor="middle" fill="#111111">0.5</text>
<text transform="translate(1260.2 846.1) scale(0.9328 1)" font-size="30.44" text-anchor="end" fill="#111111">0</text>
<text transform="translate(1260.2 740.1) scale(0.9328 1)" font-size="30.44" text-anchor="end" fill="#111111">1</text>
<text transform="translate(1260.2 634.0) scale(0.9328 1)" font-size="30.44" text-anchor="end" fill="#111111">2</text>
<text transform="translate(1260.2 528.0) scale(0.9328 1)" font-size="30.44" text-anchor="end" fill="#111111">3</text>
<text x="1499" y="500.9" font-size="41" text-anchor="middle" font-weight="normal" fill="#000">n = 461</text>
<text y="511" font-size="29" fill="#111111"><tspan x="1269.9" y="515.2" font-size="34">×</tspan><tspan x="1291.3" y="511">10</tspan><tspan x="1323.1" y="497.8" font-size="23.2">5</tspan></text>
<text x="1234" y="677" font-size="31.3" text-anchor="middle" font-weight="normal" fill="#111111" transform="rotate(-90 1234 677)">Counts</text>
<text x="1494.8" y="916" font-size="31.3" text-anchor="middle" fill="#111111">D (µm<tspan font-size="25.0" dx="1.2" dy="-15.2">2</tspan><tspan dx="1" dy="15.2">/s)</tspan></text>
</g>
<g id="panel-d">
<line x1="155.50" y1="1013.70" x2="813.80" y2="1013.70" stroke="#000" stroke-width="2.3"/>
<line x1="812.60" y1="1012.60" x2="812.60" y2="1542.90" stroke="#000" stroke-width="2.5"/>
<line x1="155.50" y1="1012.60" x2="155.50" y2="1553.30" stroke="#000" stroke-width="2.4"/>
<line x1="145.10" y1="1542.90" x2="813.80" y2="1542.90" stroke="#000" stroke-width="2.4"/>
<line x1="145.10" y1="1013.70" x2="155.50" y2="1013.70" stroke="#000" stroke-width="2.4"/>
<line x1="145.10" y1="1278.30" x2="155.50" y2="1278.30" stroke="#000" stroke-width="2.4"/>
<line x1="145.10" y1="1542.90" x2="155.50" y2="1542.90" stroke="#000" stroke-width="2.4"/>
<line x1="150.20" y1="1198.65" x2="155.50" y2="1198.65" stroke="#000" stroke-width="2.4"/>
<line x1="150.20" y1="1152.05" x2="155.50" y2="1152.05" stroke="#000" stroke-width="2.4"/>
<line x1="150.20" y1="1118.99" x2="155.50" y2="1118.99" stroke="#000" stroke-width="2.4"/>
<line x1="150.20" y1="1093.35" x2="155.50" y2="1093.35" stroke="#000" stroke-width="2.4"/>
<line x1="150.20" y1="1072.40" x2="155.50" y2="1072.40" stroke="#000" stroke-width="2.4"/>
<line x1="150.20" y1="1054.69" x2="155.50" y2="1054.69" stroke="#000" stroke-width="2.4"/>
<line x1="150.20" y1="1039.34" x2="155.50" y2="1039.34" stroke="#000" stroke-width="2.4"/>
<line x1="150.20" y1="1025.81" x2="155.50" y2="1025.81" stroke="#000" stroke-width="2.4"/>
<line x1="150.20" y1="1463.25" x2="155.50" y2="1463.25" stroke="#000" stroke-width="2.4"/>
<line x1="150.20" y1="1416.65" x2="155.50" y2="1416.65" stroke="#000" stroke-width="2.4"/>
<line x1="150.20" y1="1383.59" x2="155.50" y2="1383.59" stroke="#000" stroke-width="2.4"/>
<line x1="150.20" y1="1357.95" x2="155.50" y2="1357.95" stroke="#000" stroke-width="2.4"/>
<line x1="150.20" y1="1337.00" x2="155.50" y2="1337.00" stroke="#000" stroke-width="2.4"/>
<line x1="150.20" y1="1319.29" x2="155.50" y2="1319.29" stroke="#000" stroke-width="2.4"/>
<line x1="150.20" y1="1303.94" x2="155.50" y2="1303.94" stroke="#000" stroke-width="2.4"/>
<line x1="150.20" y1="1290.41" x2="155.50" y2="1290.41" stroke="#000" stroke-width="2.4"/>
<line x1="155.50" y1="1542.90" x2="155.50" y2="1553.30" stroke="#000" stroke-width="2.4"/>
<line x1="374.53" y1="1542.90" x2="374.53" y2="1553.30" stroke="#000" stroke-width="2.4"/>
<line x1="593.57" y1="1542.90" x2="593.57" y2="1553.30" stroke="#000" stroke-width="2.4"/>
<line x1="812.60" y1="1542.90" x2="812.60" y2="1553.30" stroke="#000" stroke-width="2.4"/>
<line x1="265.02" y1="1542.90" x2="265.02" y2="1548.20" stroke="#000" stroke-width="2.4"/>
<line x1="484.05" y1="1542.90" x2="484.05" y2="1548.20" stroke="#000" stroke-width="2.4"/>
<line x1="703.08" y1="1542.90" x2="703.08" y2="1548.20" stroke="#000" stroke-width="2.4"/>
<line x1="158.00" y1="1013.80" x2="805.00" y2="1052.00" stroke="#000" stroke-width="3.6" stroke-linecap="round"/>
<circle cx="175.0" cy="1015.1" r="3.2" fill="#000"/>
<circle cx="182.0" cy="1015.5" r="3.2" fill="#000"/>
<circle cx="187.0" cy="1015.8" r="3.2" fill="#000"/>
<circle cx="192.0" cy="1016.1" r="3.2" fill="#000"/>
<circle cx="197.0" cy="1016.4" r="3.2" fill="#000"/>
<circle cx="207.0" cy="1017.0" r="3.2" fill="#000"/>
<circle cx="224.0" cy="1018.0" r="3.2" fill="#000"/>
<circle cx="232.0" cy="1018.5" r="3.2" fill="#000"/>
<circle cx="243.0" cy="1019.1" r="3.2" fill="#000"/>
<circle cx="253.0" cy="1019.7" r="3.2" fill="#000"/>
<circle cx="296.0" cy="1019.9" r="3.2" fill="#000"/>
<circle cx="310.0" cy="1020.8" r="3.2" fill="#000"/>
<circle cx="327.6" cy="1021.8" r="3.2" fill="#000"/>
<circle cx="338.4" cy="1022.5" r="3.2" fill="#000"/>
<circle cx="364.0" cy="1024.4" r="3.2" fill="#000"/>
<circle cx="370.0" cy="1024.7" r="3.2" fill="#000"/>
<circle cx="379.6" cy="1025.3" r="3.2" fill="#000"/>
<circle cx="387.0" cy="1025.7" r="3.2" fill="#000"/>
<circle cx="392.0" cy="1026.0" r="3.2" fill="#000"/>
<circle cx="408.0" cy="1027.0" r="3.2" fill="#000"/>
<circle cx="414.0" cy="1027.3" r="3.2" fill="#000"/>
<circle cx="420.0" cy="1027.7" r="3.2" fill="#000"/>
<circle cx="426.0" cy="1028.0" r="3.2" fill="#000"/>
<circle cx="432.0" cy="1030.4" r="3.2" fill="#000"/>
<circle cx="439.0" cy="1030.8" r="3.2" fill="#000"/>
<circle cx="451.0" cy="1031.5" r="3.2" fill="#000"/>
<circle cx="474.0" cy="1032.9" r="3.2" fill="#000"/>
<circle cx="499.0" cy="1034.3" r="3.2" fill="#000"/>
<circle cx="506.7" cy="1034.8" r="3.2" fill="#000"/>
<circle cx="513.0" cy="1035.2" r="3.2" fill="#000"/>
<circle cx="521.8" cy="1035.7" r="3.2" fill="#000"/>
<circle cx="531.9" cy="1036.3" r="3.2" fill="#000"/>
<circle cx="540.7" cy="1036.8" r="3.2" fill="#000"/>
<circle cx="550.8" cy="1037.4" r="3.2" fill="#000"/>
<circle cx="558.3" cy="1037.8" r="3.2" fill="#000"/>
<circle cx="568.4" cy="1039.6" r="3.2" fill="#000"/>
<circle cx="572.0" cy="1039.8" r="3.2" fill="#000"/>
<circle cx="582.0" cy="1040.4" r="3.2" fill="#000"/>
<circle cx="608.6" cy="1042.0" r="3.2" fill="#000"/>
<circle cx="614.9" cy="1042.4" r="3.2" fill="#000"/>
<circle cx="631.2" cy="1043.3" r="3.2" fill="#000"/>
<circle cx="685.3" cy="1045.3" r="3.2" fill="#000"/>
<circle cx="694.0" cy="1045.8" r="3.2" fill="#000"/>
<circle cx="728.0" cy="1047.9" r="3.2" fill="#000"/>
<circle cx="748.0" cy="1049.0" r="3.2" fill="#000"/>
<circle cx="757.0" cy="1049.6" r="3.2" fill="#000"/>
<circle cx="763.0" cy="1049.9" r="3.2" fill="#000"/>
<circle cx="781.0" cy="1051.0" r="3.2" fill="#000"/>
<circle cx="789.6" cy="1051.5" r="3.2" fill="#000"/>
<circle cx="797.0" cy="1051.9" r="3.2" fill="#000"/>
<circle cx="802.0" cy="1052.2" r="3.2" fill="#000"/>
<line x1="300.00" y1="1124.10" x2="808.60" y2="1360.30" stroke="#808080" stroke-width="3.0" stroke-linecap="round"/>
<polyline points="158.0,1013.0 158.4,1024.0 158.8,1033.0 160.0,1042.0 161.6,1048.4 164.0,1053.6 168.0,1059.0 174.0,1063.6 182.0,1068.0 190.0,1071.4 200.0,1076.4 210.0,1081.6 221.4,1087.6 230.0,1091.6 250.0,1101.2 270.0,1111.6 290.0,1121.6 310.0,1130.4 330.0,1140.0 350.0,1150.0 370.0,1160.4 390.0,1168.0 410.0,1175.6 430.0,1185.0 450.0,1192.4 470.0,1200.0 520.6,1216.3 570.9,1238.9 577.1,1242.9 594.3,1250.6 611.4,1257.4 623.4,1264.3 637.1,1270.3 649.1,1278.0 662.9,1284.0 672.3,1288.3 676.6,1295.1 685.2,1302.9 691.2,1304.1 698.9,1306.3 707.4,1309.7 714.3,1313.1 719.4,1316.6" fill="none" stroke="#808080" stroke-width="8.0" stroke-linejoin="round" stroke-linecap="round"/>
<circle cx="733.7" cy="1318.8" r="3.4" fill="#808080"/>
<circle cx="743.4" cy="1321.2" r="3.4" fill="#808080"/>
<circle cx="749.4" cy="1323.4" r="3.4" fill="#808080"/>
<circle cx="755.4" cy="1326.4" r="3.4" fill="#808080"/>
<circle cx="764.0" cy="1327.7" r="3.4" fill="#808080"/>
<circle cx="769.2" cy="1331.2" r="3.4" fill="#808080"/>
<circle cx="774.3" cy="1335.4" r="3.4" fill="#808080"/>
<circle cx="779.4" cy="1338.0" r="3.4" fill="#808080"/>
<circle cx="786.3" cy="1342.3" r="3.4" fill="#808080"/>
<circle cx="790.6" cy="1345.4" r="3.4" fill="#808080"/>
<circle cx="795.7" cy="1348.8" r="3.4" fill="#808080"/>
<circle cx="806.5" cy="1350.4" r="3.4" fill="#808080"/>
<text x="139.2" y="1028.7" font-size="39" text-anchor="end">10<tspan font-size="28.8" dx="1" dy="-16.3">0</tspan></text>
<text x="139.2" y="1293.3" font-size="39" text-anchor="end">10<tspan font-size="28.8" dx="1" dy="-16.3">-1</tspan></text>
<text x="139.2" y="1557.9" font-size="39" text-anchor="end">10<tspan font-size="28.8" dx="1" dy="-16.3">-2</tspan></text>
<text transform="translate(155.5 1591.3) scale(0.9524 1)" font-size="42.00" text-anchor="middle" fill="#000">0</text>
<text transform="translate(374.5 1591.3) scale(0.9524 1)" font-size="42.00" text-anchor="middle" fill="#000">100</text>
<text transform="translate(593.6 1591.3) scale(0.9524 1)" font-size="42.00" text-anchor="middle" fill="#000">200</text>
<text transform="translate(812.6 1591.3) scale(0.9524 1)" font-size="42.00" text-anchor="middle" fill="#000">300</text>
<text x="484.5" y="1641" font-size="40" text-anchor="middle" font-weight="normal" fill="#000">Unbound state lifetime (s)</text>
<text x="56.3" y="1278.2" font-size="40" text-anchor="middle" font-weight="normal" fill="#000" transform="rotate(-90 56.3 1278.2)">Survival (1-CDF)</text>
<text x="520.7" y="1072.5" font-size="36.6" text-anchor="middle" font-weight="normal" fill="#231F20">1 µm</text>
<text x="520.8" y="1117" font-size="36.6" text-anchor="middle" font-weight="normal" fill="#231F20">100 pM [T]</text>
<text x="715.5" y="1205" font-size="36.6" text-anchor="middle" font-weight="normal" fill="#808080">2.8 µm</text>
<text x="715.4" y="1249" font-size="36.6" text-anchor="middle" font-weight="normal" fill="#808080">90 pM [T]</text>
<rect x="231.30" y="1282.90" width="256.50" height="201.90" fill="#fff" stroke="none" stroke-width="0"/>
<line x1="231.30" y1="1282.90" x2="488.90" y2="1282.90" stroke="#000" stroke-width="2.1"/>
<line x1="487.80" y1="1281.90" x2="487.80" y2="1495.20" stroke="#000" stroke-width="2.2"/>
<line x1="231.30" y1="1282.20" x2="231.30" y2="1495.20" stroke="#000" stroke-width="2.2"/>
<line x1="220.90" y1="1484.80" x2="488.90" y2="1484.80" stroke="#000" stroke-width="2.2"/>
<line x1="220.90" y1="1282.90" x2="231.30" y2="1282.90" stroke="#000" stroke-width="2.2"/>
<line x1="226.30" y1="1383.85" x2="231.30" y2="1383.85" stroke="#000" stroke-width="2.2"/>
<line x1="316.80" y1="1484.80" x2="316.80" y2="1495.20" stroke="#000" stroke-width="2.2"/>
<line x1="402.30" y1="1484.80" x2="402.30" y2="1495.20" stroke="#000" stroke-width="2.2"/>
<text transform="translate(231.3 1529.4) scale(0.9524 1)" font-size="36.23" text-anchor="middle" fill="#000">0</text>
<text transform="translate(316.8 1529.4) scale(0.9524 1)" font-size="36.23" text-anchor="middle" fill="#000">10</text>
<text transform="translate(402.3 1529.4) scale(0.9524 1)" font-size="36.23" text-anchor="middle" fill="#000">20</text>
<text transform="translate(487.8 1529.4) scale(0.9524 1)" font-size="36.23" text-anchor="middle" fill="#000">30</text>
<text transform="translate(213.8 1293.1) scale(0.9524 1)" font-size="36.23" text-anchor="end" fill="#000">1.0</text>
<text transform="translate(213.8 1495.0) scale(0.9524 1)" font-size="36.23" text-anchor="end" fill="#000">0.5</text>
<polyline points="239.9,1282.2 240.3,1302.3 240.9,1323.4 242.4,1338.2 244.1,1348.8 246.6,1359.4 249.4,1367.8 253.6,1377.3 257.8,1384.7 263.1,1392.8 268.4,1399.5 275.8,1405.9 283.2,1411.2 298.0,1419.6 314.9,1426.0 331.8,1432.3 350.8,1437.6 372.0,1443.9 393.1,1449.2 414.3,1455.6 435.4,1460.8 456.6,1466.1 477.7,1471.4 488.3,1474.6" fill="none" stroke="#808080" stroke-width="6.5" stroke-linejoin="round" stroke-linecap="round"/>
<line x1="245.00" y1="1283.30" x2="487.50" y2="1297.10" stroke="#000" stroke-width="3.7"/>
<circle cx="245.5" cy="1283.4" r="3.3" fill="#000"/>
<circle cx="337.0" cy="1287.1" r="3.3" fill="#000"/>
<circle cx="359.0" cy="1288.6" r="3.3" fill="#000"/>
<circle cx="375.5" cy="1290.6" r="3.3" fill="#000"/>
<circle cx="396.0" cy="1292.1" r="3.3" fill="#000"/>
<circle cx="431.5" cy="1293.6" r="3.3" fill="#000"/>
<text x="421.7" y="1331.5" font-size="36.6" text-anchor="middle" font-weight="normal" fill="#231F20">1 µm</text>
<text x="408.5" y="1421.3" font-size="36.6" text-anchor="middle" font-weight="normal" fill="#808080">2.8 µm</text>
</g>
<g id="panel-e">
<line x1="1062.60" y1="1012.90" x2="1719.80" y2="1012.90" stroke="#000" stroke-width="2.3"/>
<line x1="1718.60" y1="1011.80" x2="1718.60" y2="1541.60" stroke="#000" stroke-width="2.5"/>
<line x1="1062.60" y1="1011.80" x2="1062.60" y2="1552.00" stroke="#000" stroke-width="2.4"/>
<line x1="1052.20" y1="1541.60" x2="1719.80" y2="1541.60" stroke="#000" stroke-width="2.4"/>
<line x1="1052.20" y1="1012.90" x2="1062.60" y2="1012.90" stroke="#000" stroke-width="2.4"/>
<line x1="1052.20" y1="1277.30" x2="1062.60" y2="1277.30" stroke="#000" stroke-width="2.4"/>
<line x1="1052.20" y1="1541.70" x2="1062.60" y2="1541.70" stroke="#000" stroke-width="2.4"/>
<line x1="1057.30" y1="1197.71" x2="1062.60" y2="1197.71" stroke="#000" stroke-width="2.4"/>
<line x1="1057.30" y1="1151.15" x2="1062.60" y2="1151.15" stroke="#000" stroke-width="2.4"/>
<line x1="1057.30" y1="1118.12" x2="1062.60" y2="1118.12" stroke="#000" stroke-width="2.4"/>
<line x1="1057.30" y1="1092.49" x2="1062.60" y2="1092.49" stroke="#000" stroke-width="2.4"/>
<line x1="1057.30" y1="1071.56" x2="1062.60" y2="1071.56" stroke="#000" stroke-width="2.4"/>
<line x1="1057.30" y1="1053.86" x2="1062.60" y2="1053.86" stroke="#000" stroke-width="2.4"/>
<line x1="1057.30" y1="1038.52" x2="1062.60" y2="1038.52" stroke="#000" stroke-width="2.4"/>
<line x1="1057.30" y1="1025.00" x2="1062.60" y2="1025.00" stroke="#000" stroke-width="2.4"/>
<line x1="1057.30" y1="1462.11" x2="1062.60" y2="1462.11" stroke="#000" stroke-width="2.4"/>
<line x1="1057.30" y1="1415.55" x2="1062.60" y2="1415.55" stroke="#000" stroke-width="2.4"/>
<line x1="1057.30" y1="1382.52" x2="1062.60" y2="1382.52" stroke="#000" stroke-width="2.4"/>
<line x1="1057.30" y1="1356.89" x2="1062.60" y2="1356.89" stroke="#000" stroke-width="2.4"/>
<line x1="1057.30" y1="1335.96" x2="1062.60" y2="1335.96" stroke="#000" stroke-width="2.4"/>
<line x1="1057.30" y1="1318.26" x2="1062.60" y2="1318.26" stroke="#000" stroke-width="2.4"/>
<line x1="1057.30" y1="1302.92" x2="1062.60" y2="1302.92" stroke="#000" stroke-width="2.4"/>
<line x1="1057.30" y1="1289.40" x2="1062.60" y2="1289.40" stroke="#000" stroke-width="2.4"/>
<line x1="1062.60" y1="1541.60" x2="1062.60" y2="1552.00" stroke="#000" stroke-width="2.4"/>
<line x1="1281.27" y1="1541.60" x2="1281.27" y2="1552.00" stroke="#000" stroke-width="2.4"/>
<line x1="1499.93" y1="1541.60" x2="1499.93" y2="1552.00" stroke="#000" stroke-width="2.4"/>
<line x1="1718.60" y1="1541.60" x2="1718.60" y2="1552.00" stroke="#000" stroke-width="2.4"/>
<line x1="1171.93" y1="1541.60" x2="1171.93" y2="1546.90" stroke="#000" stroke-width="2.4"/>
<line x1="1390.60" y1="1541.60" x2="1390.60" y2="1546.90" stroke="#000" stroke-width="2.4"/>
<line x1="1609.27" y1="1541.60" x2="1609.27" y2="1546.90" stroke="#000" stroke-width="2.4"/>
<clipPath id="clip-e"><rect x="1057.6" y="1006.9" width="666.0" height="534.6999999999999"/></clipPath>
<g clip-path="url(#clip-e)">
<polyline points="1127.9,1248.5 1132.8,1257.0 1144.9,1270.3 1157.0,1281.3 1169.2,1292.2 1181.3,1303.1 1193.4,1312.8 1205.5,1322.5 1217.7,1332.2 1229.8,1341.9 1241.9,1351.6 1254.1,1362.5 1260.0,1368.0 1270.0,1376.0 1290.0,1393.0 1310.0,1410.0 1330.0,1427.0 1350.0,1445.0 1370.0,1463.0 1380.0,1472.0 1458.6,1540.7" fill="none" stroke="#808080" stroke-width="3.1" stroke-linejoin="round" stroke-linecap="round"/>
<polyline points="1064.9,1012.7 1065.7,1024.3 1066.3,1036.4 1068.1,1054.6 1070.6,1072.8 1073.7,1091.0 1077.8,1109.2 1081.8,1121.3 1085.1,1133.4 1088.8,1145.5 1092.4,1157.7 1096.0,1169.8 1099.1,1179.5 1102.1,1189.2 1105.5,1200.0 1112.2,1214.6 1118.2,1226.7 1124.3,1238.8 1129.1,1250.9 1135.2,1263.1 1142.5,1272.8 1149.8,1281.3 1155.8,1288.5 1160.7,1294.6 1166.7,1299.5 1174.0,1303.7 1180.1,1309.2 1184.9,1316.4 1189.8,1322.5 1194.6,1327.3 1200.7,1329.2 1208.0,1331.6 1215.2,1335.2 1222.5,1335.8 1227.4,1340.7 1233.4,1344.9 1240.7,1348.6 1246.8,1353.4 1252.8,1355.2 1260.0,1360.1 1262.0,1364.0 1268.0,1372.0 1274.0,1377.0 1280.0,1384.0 1286.0,1392.0 1294.0,1399.0 1301.0,1402.0" fill="none" stroke="#808080" stroke-width="6.0" stroke-linejoin="round" stroke-linecap="round"/>
</g>
<circle cx="1315.6" cy="1405.0" r="3.4" fill="#808080"/>
<circle cx="1323.6" cy="1408.4" r="3.4" fill="#808080"/>
<circle cx="1330.0" cy="1411.0" r="3.4" fill="#808080"/>
<circle cx="1331.0" cy="1416.0" r="3.4" fill="#808080"/>
<circle cx="1336.0" cy="1420.6" r="3.4" fill="#808080"/>
<circle cx="1344.4" cy="1423.0" r="3.4" fill="#808080"/>
<circle cx="1346.0" cy="1427.6" r="3.4" fill="#808080"/>
<circle cx="1353.0" cy="1436.0" r="3.4" fill="#808080"/>
<circle cx="1358.0" cy="1439.0" r="3.4" fill="#808080"/>
<circle cx="1362.4" cy="1443.0" r="3.4" fill="#808080"/>
<circle cx="1371.6" cy="1450.0" r="3.4" fill="#808080"/>
<circle cx="1371.3" cy="1450.7" r="3.4" fill="#808080"/>
<circle cx="1388.4" cy="1454.8" r="3.4" fill="#808080"/>
<circle cx="1400.7" cy="1459.1" r="3.4" fill="#808080"/>
<circle cx="1415.1" cy="1464.2" r="3.4" fill="#808080"/>
<circle cx="1417.9" cy="1469.0" r="3.4" fill="#808080"/>
<circle cx="1439.1" cy="1474.0" r="3.4" fill="#808080"/>
<circle cx="1443.3" cy="1479.3" r="3.4" fill="#808080"/>
<circle cx="1452.4" cy="1484.7" r="3.4" fill="#808080"/>
<circle cx="1498.6" cy="1490.7" r="3.4" fill="#808080"/>
<circle cx="1499.0" cy="1497.1" r="3.4" fill="#808080"/>
<circle cx="1515.9" cy="1503.5" r="3.4" fill="#808080"/>
<circle cx="1544.3" cy="1510.8" r="3.4" fill="#808080"/>
<circle cx="1554.1" cy="1517.9" r="3.4" fill="#808080"/>
<circle cx="1599.1" cy="1526.1" r="3.4" fill="#808080"/>
<circle cx="1612.9" cy="1534.3" r="3.4" fill="#808080"/>
<polyline points="1065.9,1012.7 1068.3,1030.3 1070.1,1048.5 1073.7,1066.7 1076.2,1084.9 1078.0,1097.0 1079.8,1109.2 1080.8,1121.3 1081.9,1131.0 1084.1,1143.1 1085.9,1155.2 1087.9,1169.8 1090.4,1181.9 1092.8,1194.1 1094.4,1200.0 1100.0,1218.2 1104.9,1240.0 1108.5,1255.8 1113.4,1272.8 1120.6,1293.4 1127.9,1310.4 1135.2,1323.7 1144.9,1338.3 1157.0,1354.0 1169.2,1369.2 1181.3,1381.9 1193.4,1394.1 1199.5,1400.0 1230.0,1433.0 1250.0,1452.0 1273.0,1473.0" fill="none" stroke="#000" stroke-width="3.7" stroke-linejoin="round" stroke-linecap="round"/>
<polyline points="1064.3,1012.7 1066.7,1030.3 1068.5,1048.5 1072.1,1066.7 1074.6,1084.9 1076.4,1097.0 1078.2,1109.2 1079.2,1121.3 1080.3,1131.0 1082.5,1143.1 1084.3,1155.2 1086.3,1169.8 1088.8,1181.9 1091.2,1194.1 1092.8,1200.0 1091.8,1203.6 1093.4,1213.9 1095.2,1220.6 1096.4,1226.1 1097.2,1230.3 1099.1,1235.8" fill="none" stroke="#000" stroke-width="6.2" stroke-linejoin="round" stroke-linecap="round"/>
<circle cx="1108.2" cy="1242.4" r="3.35" fill="#000"/>
<circle cx="1109.1" cy="1249.1" r="3.35" fill="#000"/>
<circle cx="1114.0" cy="1256.0" r="3.35" fill="#000"/>
<circle cx="1117.6" cy="1263.1" r="3.35" fill="#000"/>
<circle cx="1118.8" cy="1271.3" r="3.35" fill="#000"/>
<circle cx="1126.5" cy="1279.7" r="3.35" fill="#000"/>
<circle cx="1129.4" cy="1298.8" r="3.35" fill="#000"/>
<circle cx="1133.3" cy="1310.1" r="3.35" fill="#000"/>
<circle cx="1134.8" cy="1335.5" r="3.35" fill="#000"/>
<circle cx="1142.7" cy="1350.8" r="3.35" fill="#000"/>
<circle cx="1144.2" cy="1368.2" r="3.35" fill="#000"/>
<circle cx="1167.6" cy="1389.2" r="3.35" fill="#000"/>
<circle cx="1244.0" cy="1415.0" r="3.35" fill="#000"/>
<circle cx="1251.4" cy="1448.0" r="3.35" fill="#000"/>
<circle cx="1272.6" cy="1494.0" r="3.35" fill="#000"/>
<line x1="1168.00" y1="1109.50" x2="1114.46" y2="1117.62" stroke="#231F20" stroke-width="1.7"/>
<polygon points="1102.1,1119.5 1119.0,1107.5 1114.5,1117.6 1121.8,1125.9" fill="#231F20"/>
<line x1="1345.00" y1="1351.00" x2="1209.19" y2="1386.63" stroke="#231F20" stroke-width="1.7"/>
<polygon points="1197.1,1389.8 1212.6,1376.1 1209.2,1386.6 1217.4,1394.1" fill="#231F20"/>
<line x1="1374.00" y1="1380.00" x2="1341.95" y2="1394.77" stroke="#231F20" stroke-width="1.7"/>
<polygon points="1330.6,1400.0 1343.5,1383.8 1342.0,1394.8 1351.3,1400.7" fill="#231F20"/>
<text x="1046" y="1027.9" font-size="39" text-anchor="end">10<tspan font-size="28.8" dx="1" dy="-16.3">0</tspan></text>
<text x="1046" y="1292.3" font-size="39" text-anchor="end">10<tspan font-size="28.8" dx="1" dy="-16.3">-1</tspan></text>
<text x="1046" y="1556.7" font-size="39" text-anchor="end">10<tspan font-size="28.8" dx="1" dy="-16.3">-2</tspan></text>
<text transform="translate(1062.6 1591.3) scale(0.9524 1)" font-size="42.00" text-anchor="middle" fill="#000">0</text>
<text transform="translate(1281.3 1591.3) scale(0.9524 1)" font-size="42.00" text-anchor="middle" fill="#000">100</text>
<text transform="translate(1499.9 1591.3) scale(0.9524 1)" font-size="42.00" text-anchor="middle" fill="#000">200</text>
<text transform="translate(1718.6 1591.3) scale(0.9524 1)" font-size="42.00" text-anchor="middle" fill="#000">300</text>
<text x="1390" y="1641" font-size="40" text-anchor="middle" font-weight="normal" fill="#000">Bound state lifetime (s)</text>
<text x="962" y="1278.2" font-size="40" text-anchor="middle" font-weight="normal" fill="#000" transform="rotate(-90 962 1278.2)">Survival (1-CDF)</text>
<text x="1260" y="1072" font-size="36.6" text-anchor="middle" font-weight="normal" fill="#231F20">Single-</text>
<text x="1260" y="1116.4" font-size="36.6" text-anchor="middle" font-weight="normal" fill="#231F20">molecule</text>
<text x="1260" y="1160.4" font-size="36.6" text-anchor="middle" font-weight="normal" fill="#231F20">binding</text>
<text x="1266" y="1253.6" font-size="36.6" text-anchor="middle" font-weight="normal" fill="#808080">2.8 µm</text>
<text x="1266" y="1297.6" font-size="36.6" text-anchor="middle" font-weight="normal" fill="#808080">90 pM [T]</text>
<text x="1443" y="1350.6" font-size="36.6" text-anchor="middle" font-weight="normal" fill="#231F20">Multivalent</text>
<text x="1443" y="1394.5" font-size="36.6" text-anchor="middle" font-weight="normal" fill="#231F20">binding</text>
<text x="1155" y="1437" font-size="36.6" text-anchor="middle" font-weight="normal" fill="#231F20">1 µm</text>
<text x="1155" y="1481" font-size="36.6" text-anchor="middle" font-weight="normal" fill="#231F20">100 pM [T]</text>
<rect x="1438.20" y="1038.00" width="255.50" height="201.70" fill="#fff" stroke="none" stroke-width="0"/>
<line x1="1438.20" y1="1038.00" x2="1694.80" y2="1038.00" stroke="#000" stroke-width="2.1"/>
<line x1="1693.70" y1="1037.00" x2="1693.70" y2="1250.10" stroke="#000" stroke-width="2.2"/>
<line x1="1438.20" y1="1037.30" x2="1438.20" y2="1250.10" stroke="#000" stroke-width="2.2"/>
<line x1="1427.80" y1="1239.70" x2="1694.80" y2="1239.70" stroke="#000" stroke-width="2.2"/>
<line x1="1427.80" y1="1038.00" x2="1438.20" y2="1038.00" stroke="#000" stroke-width="2.2"/>
<line x1="1523.37" y1="1239.70" x2="1523.37" y2="1250.10" stroke="#000" stroke-width="2.2"/>
<line x1="1608.53" y1="1239.70" x2="1608.53" y2="1250.10" stroke="#000" stroke-width="2.2"/>
<text transform="translate(1438.2 1284.3) scale(0.9524 1)" font-size="36.23" text-anchor="middle" fill="#000">0</text>
<text transform="translate(1523.4 1284.3) scale(0.9524 1)" font-size="36.23" text-anchor="middle" fill="#000">10</text>
<text transform="translate(1608.5 1284.3) scale(0.9524 1)" font-size="36.23" text-anchor="middle" fill="#000">20</text>
<text transform="translate(1693.7 1284.3) scale(0.9524 1)" font-size="36.23" text-anchor="middle" fill="#000">30</text>
<text transform="translate(1420.7 1048.2) scale(0.9524 1)" font-size="36.23" text-anchor="end" fill="#000">1.0</text>
<text transform="translate(1420.7 1249.9) scale(0.9524 1)" font-size="36.23" text-anchor="end" fill="#000">0.5</text>
<polyline points="1484.1,1229.6 1488.2,1238.1" fill="none" stroke="#808080" stroke-width="5.0" stroke-linejoin="round" stroke-linecap="round"/>
<polyline points="1446.2,1038.0 1447.3,1052.3 1448.9,1065.9 1451.1,1079.6 1452.5,1089.1" fill="none" stroke="#000" stroke-width="6.3" stroke-linejoin="round" stroke-linecap="round"/>
<polyline points="1449.5,1085.7 1452.1,1100.0 1454.8,1113.7 1457.5,1131.4 1460.2,1147.8 1465.0,1168.2 1471.2,1188.7 1478.7,1211.9 1483.4,1225.5 1486.8,1235.1" fill="none" stroke="#000" stroke-width="8.4" stroke-linejoin="round" stroke-linecap="round"/>
<circle cx="1446.2" cy="1038.0" r="3.2" fill="#000"/>
<circle cx="1469.1" cy="1168.2" r="3.2" fill="#000"/>
<circle cx="1472.9" cy="1177.1" r="3.2" fill="#000"/>
<circle cx="1477.0" cy="1188.7" r="3.2" fill="#000"/>
<circle cx="1480.4" cy="1201.0" r="3.2" fill="#000"/>
<circle cx="1484.4" cy="1213.3" r="3.2" fill="#000"/>
<circle cx="1487.1" cy="1225.5" r="3.2" fill="#000"/>
<text x="1567.6" y="1079.3" font-size="36.6" text-anchor="middle" font-weight="normal" fill="#231F20">Single</text>
</g>
</svg>
</body></html>
